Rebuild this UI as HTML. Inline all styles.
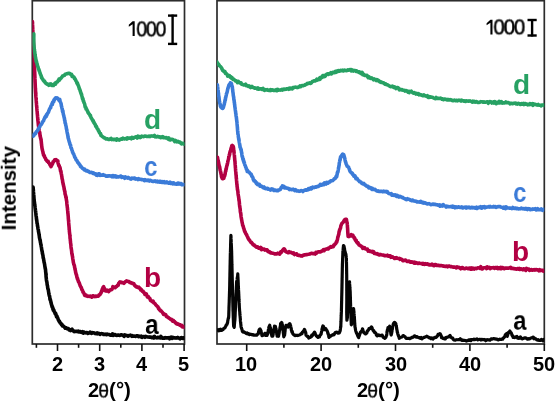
<!DOCTYPE html>
<html><head><meta charset="utf-8"><style>
html,body{margin:0;padding:0;background:#fff;}
body{width:555px;height:401px;position:relative;overflow:hidden;font-family:"Liberation Sans", sans-serif;}
.t{position:absolute;white-space:nowrap;line-height:1;-webkit-font-smoothing:antialiased;will-change:transform;}
.tick{font-weight:bold;font-size:18px;color:#000;}
.lab{font-weight:bold;font-size:28px;}
.k{font-size:20px;letter-spacing:-1px;color:#000;}
</style></head><body>
<svg width="555" height="401" viewBox="0 0 555 401" style="position:absolute;left:0;top:0">
<rect x="32.3" y="0.7" width="152.2" height="343.3" fill="none" stroke="#2c2c2c" stroke-width="1.7"/>
<rect x="217" y="0.7" width="327.3" height="343.3" fill="none" stroke="#2c2c2c" stroke-width="1.7"/>
<line x1="36.40" y1="344" x2="36.40" y2="347.8" stroke="#111" stroke-width="1.6"/>
<line x1="57.50" y1="344" x2="57.50" y2="351.0" stroke="#111" stroke-width="1.6"/>
<line x1="78.60" y1="344" x2="78.60" y2="347.8" stroke="#111" stroke-width="1.6"/>
<line x1="99.70" y1="344" x2="99.70" y2="351.0" stroke="#111" stroke-width="1.6"/>
<line x1="120.80" y1="344" x2="120.80" y2="347.8" stroke="#111" stroke-width="1.6"/>
<line x1="141.90" y1="344" x2="141.90" y2="351.0" stroke="#111" stroke-width="1.6"/>
<line x1="163.00" y1="344" x2="163.00" y2="347.8" stroke="#111" stroke-width="1.6"/>
<line x1="184.10" y1="344" x2="184.10" y2="351.0" stroke="#111" stroke-width="1.6"/>
<line x1="246.70" y1="344" x2="246.70" y2="351.0" stroke="#111" stroke-width="1.6"/>
<line x1="283.90" y1="344" x2="283.90" y2="347.8" stroke="#111" stroke-width="1.6"/>
<line x1="321.10" y1="344" x2="321.10" y2="351.0" stroke="#111" stroke-width="1.6"/>
<line x1="358.30" y1="344" x2="358.30" y2="347.8" stroke="#111" stroke-width="1.6"/>
<line x1="395.50" y1="344" x2="395.50" y2="351.0" stroke="#111" stroke-width="1.6"/>
<line x1="432.70" y1="344" x2="432.70" y2="347.8" stroke="#111" stroke-width="1.6"/>
<line x1="469.90" y1="344" x2="469.90" y2="351.0" stroke="#111" stroke-width="1.6"/>
<line x1="507.10" y1="344" x2="507.10" y2="347.8" stroke="#111" stroke-width="1.6"/>
<line x1="544.30" y1="344" x2="544.30" y2="351.0" stroke="#111" stroke-width="1.6"/>
<defs><clipPath id="cl"><rect x="32.3" y="0" width="152.2" height="344"/></clipPath><clipPath id="cr"><rect x="217" y="0" width="327.3" height="344"/></clipPath></defs>
<g clip-path="url(#cl)" style="display:inline">
<path d="M33.00 186.94 L33.03 187.41 L33.08 187.30 L33.12 187.50 L33.17 187.97 L33.23 189.10 L33.29 189.37 L33.35 189.94 L33.42 191.41 L33.48 192.19 L33.55 193.19 L33.63 193.41 L33.70 194.64 L33.77 195.44 L33.85 195.66 L33.92 197.33 L33.99 198.02 L34.06 199.64 L34.13 199.42 L34.20 199.94 L34.28 201.30 L34.37 201.63 L34.45 202.66 L34.53 202.83 L34.62 203.77 L34.70 204.79 L34.79 205.32 L34.87 205.74 L34.96 205.89 L35.05 207.20 L35.14 207.71 L35.23 208.66 L35.32 209.14 L35.41 210.22 L35.50 210.48 L35.58 211.24 L35.66 212.08 L35.73 211.99 L35.81 212.91 L35.88 213.51 L35.95 215.20 L36.03 214.98 L36.10 215.95 L36.18 216.60 L36.27 216.91 L36.35 217.07 L36.44 218.84 L36.54 219.01 L36.64 220.24 L36.75 220.18 L36.87 221.37 L37.00 222.93 L37.09 223.60 L37.19 223.06 L37.29 223.67 L37.39 224.85 L37.49 225.82 L37.60 226.24 L37.71 226.97 L37.82 227.11 L37.94 228.46 L38.06 229.38 L38.18 229.44 L38.30 229.73 L38.42 230.74 L38.55 232.10 L38.68 231.79 L38.81 233.21 L38.94 233.58 L39.07 234.68 L39.20 235.38 L39.33 236.24 L39.46 237.62 L39.60 237.92 L39.73 239.05 L39.87 239.19 L40.00 239.80 L40.12 240.82 L40.24 240.14 L40.36 242.00 L40.49 242.78 L40.62 242.91 L40.75 244.35 L40.89 244.65 L41.02 244.59 L41.16 246.27 L41.30 246.70 L41.44 247.64 L41.58 248.54 L41.72 249.88 L41.86 250.15 L41.99 250.83 L42.13 251.75 L42.27 251.55 L42.40 253.56 L42.54 253.30 L42.67 254.64 L42.80 254.67 L42.92 255.40 L43.05 256.31 L43.17 257.91 L43.28 258.03 L43.39 258.08 L43.50 258.79 L43.60 258.99 L43.70 259.99 L43.89 260.78 L44.06 262.26 L44.23 262.23 L44.38 263.45 L44.52 263.96 L44.65 264.68 L44.77 265.92 L44.88 266.29 L44.99 267.08 L45.10 267.93 L45.20 268.52 L45.30 268.08 L45.40 269.53 L45.50 269.26 L45.59 270.68 L45.67 272.20 L45.74 271.99 L45.80 272.59 L45.85 273.48 L45.91 274.09 L45.96 274.77 L46.01 275.12 L46.06 276.60 L46.13 277.23 L46.20 277.51 L46.29 278.50 L46.38 279.44 L46.50 280.43 L46.59 280.77 L46.69 281.53 L46.79 281.78 L46.90 282.11 L47.01 283.04 L47.12 284.37 L47.24 285.07 L47.37 285.44 L47.50 285.86 L47.62 286.96 L47.76 288.26 L47.89 288.87 L48.03 288.74 L48.17 289.74 L48.30 289.86 L48.44 290.71 L48.58 291.97 L48.72 292.58 L48.86 293.65 L49.00 294.43 L49.16 295.01 L49.32 295.96 L49.49 295.93 L49.65 296.42 L49.82 297.85 L49.99 299.49 L50.15 299.24 L50.33 299.32 L50.50 300.61 L50.68 301.81 L50.85 301.46 L51.04 302.91 L51.22 302.99 L51.41 304.43 L51.60 304.87 L51.80 305.31 L52.00 306.64 L52.25 306.36 L52.50 306.95 L52.76 308.70 L53.02 308.22 L53.28 310.16 L53.55 309.86 L53.82 310.06 L54.10 311.12 L54.39 311.78 L54.68 312.42 L54.98 312.86 L55.28 314.01 L55.59 313.20 L55.90 314.57 L56.22 315.33 L56.55 316.86 L56.88 315.91 L57.22 317.27 L57.56 317.60 L57.91 318.46 L58.27 319.67 L58.63 320.22 L59.00 321.28 L59.37 321.04 L59.74 322.00 L60.12 322.95 L60.51 323.37 L60.90 323.36 L61.41 324.58 L61.93 324.29 L62.47 325.97 L63.01 325.78 L63.57 326.14 L64.12 326.75 L64.68 327.41 L65.24 328.18 L65.80 327.76 L66.35 328.01 L66.90 328.75 L67.63 328.54 L68.35 328.54 L69.06 329.89 L69.78 329.62 L70.50 330.47 L71.24 329.77 L72.00 329.18 L72.80 330.72 L73.45 330.83 L74.11 331.59 L74.78 331.28 L75.45 331.33 L76.14 331.57 L76.86 331.29 L77.59 331.60 L78.36 331.11 L79.16 332.01 L80.00 331.56 L80.63 331.79 L81.28 332.34 L81.96 332.51 L82.65 331.77 L83.36 333.10 L84.09 332.07 L84.83 332.73 L85.57 332.84 L86.31 332.60 L87.06 332.63 L87.81 333.38 L88.55 333.05 L89.28 332.93 L90.00 332.03 L90.71 332.55 L91.42 333.41 L92.12 333.06 L92.83 332.63 L93.53 332.82 L94.23 333.02 L94.94 333.49 L95.64 333.42 L96.35 333.73 L97.07 333.02 L97.79 333.84 L98.52 333.27 L99.25 333.41 L100.00 334.33 L100.70 333.69 L101.42 333.66 L102.14 333.69 L102.86 333.68 L103.59 334.55 L104.33 334.54 L105.07 334.33 L105.81 334.16 L106.55 334.59 L107.30 334.18 L108.04 334.46 L108.78 334.50 L109.53 334.43 L110.26 335.14 L111.00 335.24 L111.73 335.11 L112.46 333.80 L113.18 335.42 L113.91 335.00 L114.63 334.56 L115.35 334.78 L116.08 335.32 L116.80 335.38 L117.53 335.29 L118.26 335.03 L118.99 335.03 L119.74 335.41 L120.48 335.07 L121.24 334.78 L122.00 334.94 L122.68 335.18 L123.37 335.42 L124.07 336.27 L124.78 334.79 L125.49 335.60 L126.20 335.40 L126.92 335.60 L127.64 336.09 L128.36 336.08 L129.08 335.53 L129.80 335.40 L130.51 335.11 L131.22 335.69 L131.93 336.29 L132.63 335.70 L133.32 336.15 L134.00 336.20 L134.76 336.12 L135.52 336.47 L136.26 336.02 L137.01 335.79 L137.74 335.70 L138.47 336.65 L139.20 336.17 L139.92 336.26 L140.65 336.80 L141.37 336.18 L142.09 337.32 L142.82 336.92 L143.54 336.47 L144.27 336.48 L145.00 337.25 L145.73 336.35 L146.47 336.63 L147.20 336.94 L147.93 337.07 L148.67 337.03 L149.40 337.23 L150.13 336.95 L150.87 337.09 L151.60 337.71 L152.33 337.49 L153.07 337.07 L153.80 338.01 L154.53 336.49 L155.27 337.40 L156.00 337.68 L156.72 337.85 L157.42 337.52 L158.10 337.35 L158.78 337.79 L159.44 337.50 L160.11 337.82 L160.78 336.46 L161.47 337.85 L162.17 337.39 L162.89 338.15 L163.64 338.10 L164.42 338.13 L165.23 337.68 L166.09 338.06 L167.00 337.76 L167.61 338.00 L168.25 337.87 L168.94 337.57 L169.66 338.78 L170.41 338.27 L171.18 337.11 L171.97 338.36 L172.78 337.41 L173.59 337.90 L174.42 337.77 L175.24 337.79 L176.06 338.13 L176.88 337.90 L177.68 337.43 L178.46 338.04 L179.22 338.21 L179.96 338.80 L180.66 337.89 L181.33 337.57 L181.97 337.92 L182.55 338.36 L183.09 337.72 L183.57 337.79 L184.00 338.33 L186.06 338.16 L186.00 338.29" fill="none" stroke="#050505" stroke-width="3.60" stroke-linejoin="round" stroke-linecap="round"/>
<path d="M32.40 22.48 L32.42 21.60 L32.44 22.46 L32.46 22.81 L32.48 23.59 L32.51 23.18 L32.53 24.15 L32.56 24.60 L32.59 25.08 L32.62 25.82 L32.65 26.63 L32.69 27.42 L32.72 27.87 L32.75 29.16 L32.79 29.51 L32.83 29.17 L32.86 31.79 L32.90 31.92 L32.94 32.58 L32.98 33.82 L33.01 34.63 L33.05 35.38 L33.09 35.83 L33.13 37.10 L33.17 37.20 L33.21 39.28 L33.25 38.97 L33.29 40.23 L33.32 41.14 L33.36 42.02 L33.40 42.62 L33.43 43.70 L33.47 42.73 L33.50 44.90 L33.53 45.57 L33.56 46.16 L33.59 47.69 L33.63 47.35 L33.66 48.45 L33.69 48.35 L33.72 50.04 L33.76 49.97 L33.79 50.73 L33.82 53.12 L33.85 53.16 L33.88 53.59 L33.92 54.41 L33.95 54.47 L33.98 55.37 L34.01 56.74 L34.05 56.40 L34.08 58.15 L34.11 58.03 L34.14 59.55 L34.17 59.76 L34.21 61.71 L34.24 62.12 L34.27 62.19 L34.30 62.32 L34.33 63.50 L34.36 64.52 L34.39 64.82 L34.42 66.06 L34.45 67.04 L34.48 67.28 L34.51 67.79 L34.54 68.97 L34.57 69.17 L34.60 70.31 L34.64 70.61 L34.67 72.22 L34.70 72.18 L34.73 72.61 L34.76 73.86 L34.80 74.29 L34.83 74.90 L34.85 75.97 L34.88 77.06 L34.91 76.53 L34.94 78.15 L34.97 78.80 L35.00 79.50 L35.03 80.60 L35.05 80.39 L35.08 81.92 L35.11 82.23 L35.14 83.06 L35.17 83.60 L35.20 84.24 L35.24 84.84 L35.27 85.93 L35.31 87.34 L35.34 87.59 L35.38 88.20 L35.42 88.77 L35.46 89.04 L35.50 90.21 L35.54 91.56 L35.59 90.84 L35.63 92.47 L35.68 93.27 L35.73 93.68 L35.78 94.63 L35.83 95.61 L35.88 96.70 L35.93 97.04 L35.98 97.92 L36.04 98.09 L36.09 99.03 L36.14 99.48 L36.20 100.26 L36.26 100.66 L36.31 101.87 L36.37 102.92 L36.42 102.96 L36.48 103.85 L36.54 104.72 L36.60 105.17 L36.65 106.26 L36.71 106.67 L36.77 106.76 L36.83 107.51 L36.89 108.94 L36.94 109.58 L37.00 110.45 L37.07 110.87 L37.13 111.63 L37.20 111.65 L37.26 113.68 L37.33 113.47 L37.40 115.07 L37.46 114.91 L37.53 115.87 L37.60 116.98 L37.66 117.48 L37.73 118.11 L37.80 119.53 L37.87 120.17 L37.94 120.78 L38.01 121.19 L38.08 121.69 L38.15 122.54 L38.23 123.22 L38.30 124.11 L38.38 125.12 L38.46 125.39 L38.54 125.78 L38.62 126.50 L38.70 127.93 L38.81 128.29 L38.94 129.13 L39.06 129.94 L39.20 130.85 L39.33 131.43 L39.47 132.62 L39.61 133.20 L39.75 132.38 L39.89 134.23 L40.03 136.22 L40.17 135.11 L40.31 136.37 L40.44 137.42 L40.56 137.60 L40.68 138.78 L40.80 138.29 L40.90 138.89 L41.00 139.92 L41.14 140.59 L41.25 141.31 L41.35 142.81 L41.44 143.44 L41.51 144.06 L41.58 144.59 L41.65 145.54 L41.73 146.04 L41.81 146.42 L41.90 147.58 L42.00 148.16 L42.16 148.89 L42.33 149.96 L42.50 149.99 L42.69 151.15 L42.88 151.71 L43.08 153.20 L43.29 153.54 L43.50 154.89 L43.76 155.42 L44.03 155.33 L44.31 155.73 L44.60 157.08 L44.90 157.40 L45.20 158.06 L45.50 158.25 L45.93 159.66 L46.36 160.11 L46.80 160.77 L47.25 161.27 L47.70 161.32 L48.17 161.35 L48.68 162.78 L49.17 163.22 L49.62 163.80 L50.00 164.90 L50.57 165.51 L51.00 166.63 L51.36 165.71 L51.75 165.16 L52.20 164.21 L52.60 163.63 L53.05 161.95 L53.52 162.13 L54.00 161.05 L54.67 159.83 L55.36 159.90 L56.00 159.55 L56.59 160.17 L57.13 160.51 L57.60 161.15 L57.83 160.89 L58.02 162.97 L58.20 163.63 L58.38 164.10 L58.60 164.69 L58.86 165.67 L59.14 165.42 L59.43 166.71 L59.72 167.15 L60.00 167.58 L60.17 168.79 L60.34 169.50 L60.51 170.83 L60.68 171.30 L60.85 171.04 L61.01 171.69 L61.16 173.25 L61.30 173.91 L61.45 174.36 L61.58 174.86 L61.70 176.08 L61.81 176.35 L61.93 177.24 L62.06 178.60 L62.20 179.10 L62.33 179.38 L62.47 179.93 L62.61 181.04 L62.76 182.58 L62.91 182.40 L63.07 184.11 L63.23 183.85 L63.40 184.91 L63.54 185.97 L63.68 186.05 L63.83 187.11 L63.98 187.25 L64.13 188.83 L64.29 189.79 L64.44 189.78 L64.60 190.88 L64.75 191.38 L64.90 191.39 L65.05 194.17 L65.20 193.98 L65.35 194.73 L65.50 195.22 L65.66 195.82 L65.81 197.45 L65.96 196.43 L66.11 197.86 L66.25 198.68 L66.40 199.71 L66.48 200.68 L66.57 200.68 L66.65 201.04 L66.73 201.75 L66.82 203.06 L66.90 203.92 L66.98 204.54 L67.06 205.56 L67.14 205.38 L67.22 206.75 L67.30 207.36 L67.38 207.77 L67.47 208.31 L67.55 209.81 L67.63 209.98 L67.72 211.00 L67.80 211.59 L67.86 213.35 L67.92 213.22 L67.97 213.68 L68.03 214.45 L68.09 215.13 L68.14 215.96 L68.20 215.90 L68.26 216.84 L68.32 218.26 L68.37 219.24 L68.43 219.09 L68.49 220.31 L68.55 220.77 L68.61 220.81 L68.67 222.39 L68.73 222.82 L68.79 224.40 L68.85 224.71 L68.91 225.54 L68.97 225.69 L69.04 227.12 L69.10 226.98 L69.17 228.63 L69.23 229.85 L69.30 229.49 L69.37 231.08 L69.44 232.05 L69.51 232.11 L69.58 233.41 L69.66 233.73 L69.73 234.24 L69.81 234.36 L69.88 235.51 L69.96 236.10 L70.04 238.49 L70.11 238.35 L70.19 238.93 L70.27 239.18 L70.35 241.22 L70.43 240.74 L70.51 242.59 L70.59 243.14 L70.66 243.43 L70.74 243.82 L70.82 244.76 L70.90 244.90 L70.97 246.39 L71.05 247.47 L71.13 247.77 L71.20 248.44 L71.31 248.57 L71.42 249.84 L71.52 250.10 L71.63 251.13 L71.74 252.40 L71.84 253.89 L71.95 253.60 L72.05 254.29 L72.16 254.17 L72.26 255.72 L72.37 255.92 L72.47 256.36 L72.58 256.95 L72.68 258.26 L72.79 258.64 L72.89 259.69 L73.00 259.90 L73.16 260.88 L73.33 262.31 L73.49 262.81 L73.65 263.53 L73.82 264.53 L73.98 264.68 L74.15 264.84 L74.31 265.59 L74.47 265.94 L74.64 267.44 L74.80 267.83 L74.96 268.95 L75.13 269.84 L75.29 269.91 L75.45 271.09 L75.61 272.31 L75.78 272.57 L75.94 273.67 L76.10 273.92 L76.27 274.30 L76.43 275.27 L76.60 275.21 L76.83 277.11 L77.07 277.34 L77.30 278.83 L77.54 278.42 L77.78 279.64 L78.02 280.36 L78.26 280.77 L78.50 281.66 L78.77 281.91 L79.03 282.47 L79.29 283.01 L79.56 284.05 L79.85 284.64 L80.16 285.82 L80.50 286.34 L80.77 286.82 L81.06 287.44 L81.36 287.63 L81.68 288.99 L82.01 290.03 L82.34 289.98 L82.67 291.11 L82.99 292.13 L83.31 292.11 L83.60 292.98 L84.14 293.51 L84.63 295.34 L85.12 295.36 L85.63 295.65 L86.20 295.21 L86.81 296.08 L87.45 295.96 L88.13 296.35 L88.87 296.07 L89.70 296.47 L90.38 296.12 L91.14 296.59 L91.94 297.21 L92.76 295.86 L93.56 295.85 L94.32 296.57 L95.00 296.64 L95.83 296.05 L96.58 296.36 L97.26 296.16 L97.89 296.01 L98.50 296.09 L99.07 294.88 L99.59 295.05 L100.07 294.38 L100.54 293.43 L101.00 293.21 L101.29 291.84 L101.57 291.00 L101.85 291.24 L102.12 289.43 L102.39 289.79 L102.66 288.79 L102.93 287.58 L103.20 287.12 L103.63 286.64 L104.06 288.17 L104.48 288.36 L104.93 290.58 L105.40 289.78 L106.24 291.02 L107.14 290.06 L108.10 291.05 L108.74 291.59 L109.43 290.54 L110.14 290.00 L110.81 289.72 L111.40 289.66 L111.98 289.27 L112.45 288.08 L112.92 286.64 L113.50 287.13 L114.24 287.19 L115.08 287.73 L115.95 286.74 L116.80 286.37 L117.26 285.62 L117.72 285.55 L118.18 285.28 L118.63 283.36 L119.09 283.15 L119.54 282.11 L120.00 281.90 L120.80 282.04 L121.59 282.68 L122.39 282.53 L123.20 282.87 L123.86 283.30 L124.52 282.43 L125.18 281.95 L125.84 281.33 L126.50 280.82 L127.30 281.12 L128.10 281.45 L128.90 281.62 L129.70 282.44 L130.36 282.25 L131.02 282.88 L131.68 282.77 L132.34 283.40 L133.00 283.21 L133.53 283.69 L134.04 283.95 L134.56 285.52 L135.08 285.79 L135.62 286.21 L136.20 286.86 L136.81 286.63 L137.45 287.34 L138.11 287.37 L138.79 287.10 L139.48 288.17 L140.20 288.42 L140.69 289.83 L141.18 289.37 L141.68 289.94 L142.19 291.17 L142.71 291.32 L143.24 291.34 L143.78 292.61 L144.33 292.78 L144.90 294.43 L145.38 293.73 L145.86 294.35 L146.36 294.00 L146.87 295.39 L147.38 297.00 L147.90 296.66 L148.43 296.82 L148.95 297.88 L149.47 298.14 L149.99 298.77 L150.50 300.37 L151.01 300.67 L151.53 301.00 L152.06 301.54 L152.58 300.94 L153.11 301.00 L153.63 302.67 L154.14 303.03 L154.65 303.39 L155.15 303.83 L155.63 304.70 L156.10 305.14 L156.59 305.57 L157.07 306.25 L157.53 306.53 L157.98 307.03 L158.42 308.37 L158.85 308.23 L159.28 309.76 L159.72 309.73 L160.15 310.01 L160.60 310.98 L161.10 310.84 L161.60 311.51 L162.10 311.98 L162.60 312.64 L163.10 313.44 L163.60 314.52 L164.10 314.33 L164.60 314.10 L165.10 314.64 L165.73 314.75 L166.35 316.32 L166.97 316.83 L167.59 317.03 L168.23 317.49 L168.90 318.02 L169.60 318.48 L170.18 319.00 L170.79 319.28 L171.43 319.24 L172.07 320.55 L172.73 321.21 L173.37 320.41 L174.01 321.47 L174.62 321.52 L175.20 322.62 L175.90 322.73 L176.57 323.87 L177.21 324.11 L177.83 323.78 L178.45 324.12 L179.07 324.40 L179.70 325.25 L180.37 324.96 L181.06 325.91 L181.77 325.49 L182.46 326.89 L183.11 326.97 L183.70 326.56 L184.20 326.96 L185.38 327.85 L186.00 328.12" fill="none" stroke="#b20043" stroke-width="3.60" stroke-linejoin="round" stroke-linecap="round"/>
<path d="M33.00 136.04 L33.27 136.19 L33.63 134.84 L34.06 135.13 L34.53 134.02 L35.04 133.40 L35.56 133.66 L36.07 132.29 L36.56 131.57 L37.00 131.31 L37.46 130.84 L37.91 129.72 L38.35 129.35 L38.78 128.06 L39.21 127.67 L39.64 126.98 L40.07 125.93 L40.50 125.17 L40.85 124.54 L41.20 124.54 L41.55 123.96 L41.90 123.29 L42.25 122.84 L42.60 121.62 L42.95 121.52 L43.30 121.03 L43.65 120.63 L44.00 119.34 L44.35 118.93 L44.70 117.65 L45.05 117.69 L45.40 116.38 L45.75 116.11 L46.10 116.57 L46.45 114.57 L46.80 115.21 L47.15 114.38 L47.50 113.47 L47.82 113.19 L48.14 112.60 L48.45 112.19 L48.77 111.02 L49.09 110.23 L49.41 109.58 L49.73 108.77 L50.05 108.51 L50.36 107.55 L50.68 107.69 L51.00 105.81 L51.32 105.48 L51.66 104.85 L52.00 103.67 L52.35 104.63 L52.69 102.10 L53.03 102.30 L53.36 101.53 L53.68 101.82 L53.97 99.71 L54.25 100.48 L54.50 99.29 L55.17 98.49 L55.65 97.83 L56.20 98.27 L56.98 97.75 L57.83 98.76 L58.60 99.55 L59.21 100.69 L59.74 99.46 L60.20 101.84 L60.50 102.30 L60.75 102.51 L60.98 103.72 L61.20 104.30 L61.37 105.94 L61.52 106.10 L61.67 106.73 L61.82 107.55 L62.00 108.42 L62.17 109.17 L62.34 109.66 L62.53 111.70 L62.72 110.83 L62.91 110.92 L63.10 113.15 L63.28 113.84 L63.45 114.70 L63.62 115.09 L63.80 115.78 L63.99 116.74 L64.20 117.91 L64.33 117.93 L64.47 118.64 L64.62 120.33 L64.77 120.50 L64.93 120.64 L65.08 122.83 L65.24 122.98 L65.39 123.21 L65.55 123.75 L65.70 125.13 L65.85 125.39 L66.00 126.04 L66.15 126.68 L66.30 127.75 L66.45 129.16 L66.60 129.25 L66.75 129.56 L66.90 131.19 L67.05 131.68 L67.20 132.75 L67.33 133.59 L67.46 133.70 L67.59 134.40 L67.71 135.14 L67.84 135.38 L67.96 136.83 L68.10 137.82 L68.23 138.01 L68.38 138.53 L68.53 139.21 L68.70 139.67 L68.88 140.35 L69.07 141.21 L69.27 141.72 L69.48 142.58 L69.70 142.79 L69.92 144.29 L70.14 144.84 L70.36 145.00 L70.58 145.18 L70.79 146.78 L71.00 147.86 L71.25 147.83 L71.49 148.65 L71.74 149.31 L71.98 150.50 L72.22 150.50 L72.46 151.95 L72.71 152.04 L72.95 153.18 L73.20 153.41 L73.52 154.06 L73.83 154.25 L74.14 155.28 L74.45 156.13 L74.78 157.19 L75.13 157.70 L75.50 158.01 L75.84 159.10 L76.19 159.97 L76.55 160.13 L76.92 160.64 L77.31 161.30 L77.71 162.45 L78.14 162.98 L78.60 163.01 L79.03 164.15 L79.49 164.42 L79.97 164.94 L80.47 166.42 L80.98 166.88 L81.49 166.84 L82.00 167.75 L82.51 168.45 L83.00 168.43 L83.62 169.15 L84.24 169.90 L84.85 169.22 L85.46 170.42 L86.07 170.87 L86.69 171.04 L87.30 170.54 L88.00 171.55 L88.69 171.33 L89.38 172.19 L90.09 172.45 L90.82 172.53 L91.60 172.38 L92.22 172.66 L92.87 173.47 L93.54 172.95 L94.23 173.75 L94.93 173.96 L95.62 173.83 L96.32 175.13 L97.00 174.33 L97.77 175.38 L98.54 173.79 L99.31 173.84 L100.09 175.34 L100.86 175.32 L101.63 175.05 L102.40 175.28 L103.17 174.62 L103.94 175.28 L104.71 175.22 L105.49 175.67 L106.26 176.23 L107.03 175.96 L107.80 176.16 L108.57 175.74 L109.34 175.85 L110.11 176.06 L110.89 175.88 L111.66 176.51 L112.43 175.61 L113.20 176.79 L113.97 175.64 L114.74 176.57 L115.51 175.89 L116.29 177.00 L117.06 176.46 L117.83 176.67 L118.60 176.91 L119.37 176.43 L120.13 176.35 L120.88 176.03 L121.64 177.49 L122.41 176.78 L123.20 176.93 L124.00 177.29 L124.69 178.25 L125.36 176.81 L126.03 177.76 L126.71 177.62 L127.43 178.14 L128.20 177.29 L129.05 178.01 L130.00 178.65 L130.59 179.02 L131.22 179.10 L131.88 178.13 L132.57 178.57 L133.28 178.56 L134.01 178.09 L134.75 178.12 L135.50 179.10 L136.26 178.95 L137.03 178.85 L137.78 179.49 L138.54 178.63 L139.28 179.34 L140.00 179.20 L140.71 179.26 L141.43 179.58 L142.14 179.54 L142.86 179.68 L143.57 179.78 L144.29 180.58 L145.00 179.74 L145.71 180.41 L146.43 180.34 L147.14 180.05 L147.86 180.63 L148.57 180.04 L149.29 180.99 L150.00 180.26 L150.71 180.49 L151.43 180.93 L152.14 181.24 L152.86 181.37 L153.57 181.46 L154.29 181.09 L155.00 180.87 L155.71 181.60 L156.43 181.59 L157.14 181.15 L157.86 182.05 L158.57 181.81 L159.29 181.41 L160.00 182.09 L160.70 181.42 L161.39 181.68 L162.07 182.29 L162.74 181.54 L163.41 182.27 L164.08 181.75 L164.75 182.69 L165.43 182.14 L166.13 182.59 L166.85 181.95 L167.59 182.51 L168.36 183.13 L169.16 183.00 L170.00 182.13 L170.62 183.36 L171.29 183.42 L172.00 182.96 L172.74 183.80 L173.50 182.84 L174.28 183.34 L175.08 183.94 L175.89 184.11 L176.70 184.19 L177.50 183.28 L178.29 183.09 L179.07 184.09 L179.83 183.41 L180.56 184.04 L181.25 183.64 L181.90 184.70 L182.51 184.66 L183.07 184.62 L183.57 184.46 L184.00 184.52 L185.88 184.63 L186.00 184.96" fill="none" stroke="#3b7bd8" stroke-width="3.60" stroke-linejoin="round" stroke-linecap="round"/>
<path d="M33.80 33.82 L33.80 34.39 L33.80 34.47 L33.80 35.35 L33.80 36.18 L33.79 36.61 L33.78 37.79 L33.78 37.49 L33.78 38.66 L33.78 39.13 L33.78 39.91 L33.79 40.99 L33.80 42.00 L33.82 42.92 L33.85 43.80 L33.89 45.35 L33.94 45.58 L34.00 45.33 L34.06 46.75 L34.12 47.08 L34.19 47.82 L34.27 49.30 L34.35 49.37 L34.44 49.37 L34.53 51.06 L34.62 51.54 L34.72 51.91 L34.83 52.75 L34.93 53.61 L35.04 54.59 L35.15 55.14 L35.27 56.07 L35.39 57.51 L35.51 57.09 L35.63 57.76 L35.75 58.65 L35.88 59.85 L36.00 59.70 L36.18 61.44 L36.38 61.11 L36.58 62.01 L36.78 63.18 L37.00 63.59 L37.22 64.41 L37.44 65.56 L37.66 66.37 L37.89 66.79 L38.11 67.29 L38.34 68.63 L38.56 68.88 L38.78 69.26 L39.00 70.51 L39.25 70.37 L39.49 71.55 L39.73 72.49 L39.96 72.92 L40.20 73.39 L40.44 74.46 L40.68 74.75 L40.93 75.38 L41.18 75.83 L41.44 77.41 L41.71 77.21 L42.00 78.49 L42.40 78.86 L42.80 79.26 L43.22 80.28 L43.65 80.71 L44.10 81.20 L44.56 81.09 L45.02 82.18 L45.51 82.97 L46.00 83.20 L46.67 83.89 L47.38 84.50 L48.13 84.40 L48.87 85.34 L49.62 84.10 L50.33 84.80 L51.00 83.94 L51.86 85.38 L52.67 85.00 L53.45 85.47 L54.22 84.29 L55.00 83.15 L55.50 84.18 L56.00 82.65 L56.50 82.19 L57.00 82.11 L57.50 81.90 L58.00 80.86 L58.50 80.60 L59.00 79.21 L59.50 80.22 L60.00 78.94 L60.50 78.48 L61.00 78.15 L61.50 77.46 L62.00 76.98 L62.50 76.04 L63.00 75.95 L63.67 75.65 L64.33 75.38 L65.00 74.42 L65.67 74.09 L66.33 73.87 L67.00 73.74 L67.82 73.45 L68.65 73.23 L69.47 73.23 L70.26 74.13 L71.00 74.12 L71.57 74.43 L72.11 76.43 L72.63 75.98 L73.12 76.63 L73.58 76.99 L74.00 77.07 L74.52 78.62 L74.94 78.63 L75.36 79.33 L75.90 80.73 L76.14 81.21 L76.40 81.41 L76.68 81.89 L76.97 83.38 L77.27 83.39 L77.58 83.39 L77.89 84.84 L78.20 85.32 L78.51 86.01 L78.81 87.03 L79.10 87.60 L79.32 88.95 L79.55 88.82 L79.77 89.49 L79.99 90.53 L80.21 90.48 L80.43 91.83 L80.65 92.07 L80.87 93.30 L81.09 93.15 L81.31 94.39 L81.53 94.24 L81.75 95.43 L81.98 96.32 L82.20 97.21 L82.42 98.51 L82.64 99.15 L82.86 98.51 L83.07 99.45 L83.29 100.99 L83.51 101.35 L83.72 101.29 L83.95 102.76 L84.17 102.78 L84.40 103.57 L84.64 104.09 L84.88 105.18 L85.14 106.89 L85.40 106.76 L85.69 107.25 L86.00 109.03 L86.32 108.47 L86.65 109.27 L86.98 109.89 L87.32 110.84 L87.66 111.18 L88.00 112.57 L88.35 112.48 L88.69 113.47 L89.03 113.96 L89.37 114.13 L89.70 114.69 L90.05 115.73 L90.41 115.43 L90.76 117.03 L91.11 117.68 L91.46 118.32 L91.81 118.83 L92.16 119.61 L92.50 119.92 L92.85 120.94 L93.20 120.59 L93.55 122.27 L93.90 122.13 L94.26 123.34 L94.62 123.59 L94.99 124.27 L95.37 124.79 L95.74 126.36 L96.11 126.01 L96.48 126.61 L96.83 127.85 L97.18 128.48 L97.50 128.97 L97.81 129.09 L98.10 129.73 L98.60 131.26 L99.03 131.19 L99.41 132.53 L99.76 133.16 L100.12 133.48 L100.50 133.49 L100.97 135.52 L101.42 135.47 L101.89 136.16 L102.40 136.53 L103.00 136.80 L103.55 137.45 L104.11 137.94 L104.72 137.75 L105.39 138.37 L106.14 139.00 L107.00 138.88 L107.58 138.77 L108.22 139.34 L108.91 139.38 L109.63 139.45 L110.38 138.82 L111.13 138.46 L111.88 139.61 L112.62 139.35 L113.33 139.21 L114.00 139.60 L114.80 139.24 L115.57 139.19 L116.32 140.20 L117.06 138.77 L117.79 139.76 L118.52 139.80 L119.26 140.08 L120.00 139.41 L120.75 139.46 L121.50 138.81 L122.25 139.14 L123.00 138.17 L123.75 138.73 L124.50 138.87 L125.25 138.75 L126.00 138.50 L126.75 139.09 L127.50 137.83 L128.25 138.43 L129.00 138.09 L129.75 138.15 L130.50 138.04 L131.25 138.72 L132.00 137.35 L132.75 138.26 L133.50 138.20 L134.25 137.47 L135.00 137.18 L135.75 136.83 L136.50 136.90 L137.25 138.04 L138.00 136.20 L138.75 137.21 L139.50 136.64 L140.25 137.64 L141.00 136.90 L141.75 136.13 L142.50 136.40 L143.25 136.64 L144.00 136.55 L144.75 136.06 L145.50 136.30 L146.25 136.20 L147.00 136.57 L147.75 136.46 L148.50 136.42 L149.25 136.07 L150.00 136.63 L150.75 136.05 L151.50 135.92 L152.25 136.07 L153.00 136.10 L153.75 136.10 L154.50 135.43 L155.25 136.82 L156.00 136.56 L156.75 136.92 L157.50 136.28 L158.25 136.85 L159.00 136.73 L159.75 136.78 L160.50 137.65 L161.25 136.80 L162.00 137.44 L162.75 136.65 L163.50 137.81 L164.25 137.71 L165.00 137.58 L165.75 137.99 L166.50 137.58 L167.25 138.24 L168.00 138.97 L168.75 138.00 L169.50 139.76 L170.25 139.91 L171.00 139.38 L171.75 139.27 L172.50 139.50 L173.25 139.76 L174.00 140.19 L174.76 141.63 L175.54 140.47 L176.33 141.48 L177.11 141.92 L177.88 141.23 L178.63 141.74 L179.34 142.36 L180.00 142.03 L180.83 143.13 L181.62 143.82 L182.36 143.21 L183.04 143.18 L183.66 144.04 L184.20 144.14 L185.36 144.04 L186.00 144.44" fill="none" stroke="#27a163" stroke-width="3.60" stroke-linejoin="round" stroke-linecap="round"/>
</g>
<g clip-path="url(#cr)" style="display:inline">
<path d="M217.00 329.80 L217.75 329.87 L218.50 330.68 L219.25 329.49 L220.00 330.44 L220.83 329.25 L221.67 330.36 L222.50 329.69 L223.18 329.64 L223.85 328.34 L224.52 328.19 L225.20 327.38 L225.55 326.51 L225.90 326.19 L226.25 324.92 L226.60 324.62 L226.95 324.38 L227.30 323.42 L227.44 322.54 L227.58 322.94 L227.72 321.35 L227.86 320.39 L228.00 320.02 L228.14 319.04 L228.28 318.41 L228.42 317.73 L228.56 318.04 L228.70 316.51 L228.72 315.86 L228.75 315.35 L228.77 315.20 L228.80 313.54 L228.82 312.66 L228.85 313.24 L228.87 310.87 L228.89 310.62 L228.92 310.33 L228.94 310.30 L228.97 308.22 L228.99 306.89 L229.02 307.47 L229.04 306.25 L229.06 305.59 L229.09 305.23 L229.11 304.42 L229.14 303.73 L229.16 302.71 L229.19 302.72 L229.21 302.09 L229.24 300.76 L229.26 299.84 L229.28 299.62 L229.31 298.80 L229.33 297.44 L229.36 296.97 L229.38 296.89 L229.41 295.69 L229.43 294.88 L229.45 294.39 L229.48 293.57 L229.50 292.86 L229.53 291.34 L229.55 292.17 L229.58 290.80 L229.60 289.63 L229.61 289.70 L229.63 288.71 L229.64 287.88 L229.66 287.61 L229.67 287.41 L229.69 285.98 L229.70 285.71 L229.72 285.24 L229.73 283.20 L229.75 282.70 L229.76 282.53 L229.78 280.78 L229.79 280.68 L229.80 280.63 L229.82 279.81 L229.83 278.91 L229.85 277.16 L229.86 278.24 L229.88 276.77 L229.89 276.16 L229.91 275.33 L229.92 273.70 L229.94 273.11 L229.95 272.49 L229.96 273.10 L229.98 271.23 L229.99 270.77 L230.01 270.06 L230.02 269.70 L230.04 268.96 L230.05 268.15 L230.07 266.80 L230.08 265.31 L230.10 265.99 L230.11 265.32 L230.12 265.02 L230.14 263.75 L230.15 262.83 L230.17 262.55 L230.18 261.01 L230.20 260.52 L230.21 259.83 L230.23 259.66 L230.24 259.71 L230.26 258.45 L230.27 257.90 L230.29 256.81 L230.30 256.12 L230.32 255.09 L230.34 254.45 L230.36 252.83 L230.38 252.63 L230.40 251.87 L230.42 252.05 L230.44 251.26 L230.47 250.74 L230.49 250.20 L230.51 248.70 L230.53 248.55 L230.55 248.21 L230.57 246.67 L230.59 246.42 L230.61 245.17 L230.63 243.85 L230.65 243.86 L230.67 242.74 L230.69 242.42 L230.71 241.46 L230.73 241.07 L230.76 239.32 L230.78 240.38 L230.80 239.36 L230.82 237.92 L230.84 236.97 L230.86 236.64 L230.88 236.20 L230.90 235.38 L230.93 236.09 L230.96 235.81 L231.00 236.88 L231.03 238.64 L231.06 238.89 L231.09 238.87 L231.12 239.86 L231.15 240.34 L231.19 241.23 L231.22 242.88 L231.25 243.01 L231.28 244.29 L231.31 244.62 L231.35 244.62 L231.38 245.70 L231.41 247.67 L231.44 247.08 L231.47 247.68 L231.50 249.37 L231.54 249.60 L231.57 250.28 L231.60 251.63 L231.62 250.96 L231.63 252.60 L231.65 252.67 L231.67 253.23 L231.68 254.19 L231.70 255.74 L231.72 255.90 L231.73 255.88 L231.75 256.90 L231.77 258.74 L231.78 259.23 L231.80 259.03 L231.82 261.25 L231.83 260.76 L231.85 261.11 L231.87 262.27 L231.88 263.44 L231.90 264.44 L231.92 264.90 L231.93 264.98 L231.95 265.63 L231.97 265.96 L231.98 267.26 L232.00 267.74 L232.02 268.81 L232.03 268.87 L232.05 269.90 L232.07 270.45 L232.08 271.02 L232.10 271.74 L232.12 272.52 L232.13 273.16 L232.15 274.62 L232.17 275.13 L232.18 275.22 L232.20 276.72 L232.22 277.33 L232.23 278.54 L232.25 278.54 L232.27 279.24 L232.28 279.75 L232.30 280.80 L232.32 281.67 L232.33 282.24 L232.35 282.77 L232.37 283.83 L232.38 284.33 L232.40 285.11 L232.42 285.31 L232.43 286.52 L232.45 286.71 L232.47 287.49 L232.49 288.64 L232.50 290.19 L232.52 290.43 L232.54 290.72 L232.55 291.35 L232.57 292.57 L232.59 293.45 L232.61 294.10 L232.62 294.21 L232.64 295.08 L232.66 295.57 L232.67 296.31 L232.69 296.78 L232.71 297.75 L232.73 297.65 L232.74 298.77 L232.76 300.18 L232.78 300.32 L232.79 301.66 L232.81 301.59 L232.83 302.70 L232.85 303.74 L232.86 303.84 L232.88 304.69 L232.90 306.78 L232.91 306.14 L232.93 306.84 L232.95 307.61 L232.97 308.59 L232.98 309.27 L233.00 310.42 L233.03 311.07 L233.05 311.28 L233.08 312.03 L233.11 312.30 L233.14 312.99 L233.16 314.05 L233.19 315.40 L233.22 315.87 L233.25 316.89 L233.27 317.68 L233.30 317.93 L233.33 319.63 L233.35 319.23 L233.38 319.91 L233.41 320.72 L233.44 322.12 L233.46 322.30 L233.49 322.77 L233.52 324.00 L233.55 325.03 L233.57 325.22 L233.60 325.89 L234.20 327.47 L234.27 326.67 L234.33 325.91 L234.40 324.42 L234.47 324.12 L234.53 323.41 L234.60 321.73 L234.67 322.27 L234.73 321.04 L234.80 320.10 L234.87 320.47 L234.93 318.81 L235.00 317.69 L235.03 317.25 L235.06 316.80 L235.10 316.19 L235.13 315.10 L235.16 314.03 L235.19 313.38 L235.22 312.61 L235.26 311.79 L235.29 311.51 L235.32 310.59 L235.35 310.10 L235.38 309.01 L235.42 308.27 L235.45 307.84 L235.48 307.05 L235.51 306.97 L235.54 305.37 L235.58 305.13 L235.61 304.30 L235.64 303.04 L235.67 303.19 L235.70 302.23 L235.74 300.54 L235.77 300.98 L235.80 300.40 L235.83 298.94 L235.86 299.29 L235.90 297.91 L235.93 296.63 L235.96 296.64 L235.99 295.53 L236.02 294.39 L236.06 293.32 L236.09 293.63 L236.12 292.48 L236.15 292.36 L236.18 291.53 L236.22 290.42 L236.25 289.69 L236.28 289.96 L236.31 289.21 L236.34 288.08 L236.38 286.89 L236.41 285.90 L236.44 285.43 L236.47 285.59 L236.50 284.36 L236.54 283.32 L236.57 282.19 L236.60 282.07 L236.72 280.87 L236.84 280.51 L236.96 280.07 L237.08 279.46 L237.20 278.31 L237.32 277.35 L237.44 276.85 L237.56 276.77 L237.68 275.41 L237.80 273.90 L237.83 275.87 L237.87 276.02 L237.90 278.11 L237.94 277.13 L237.97 277.99 L238.01 278.61 L238.04 279.61 L238.08 279.91 L238.11 280.23 L238.14 280.75 L238.18 282.22 L238.21 282.76 L238.25 283.44 L238.28 285.30 L238.32 285.44 L238.35 286.28 L238.39 286.30 L238.42 287.35 L238.46 287.84 L238.49 288.55 L238.52 289.66 L238.56 290.31 L238.59 290.89 L238.63 291.53 L238.66 291.56 L238.70 292.56 L238.73 293.75 L238.77 294.14 L238.80 294.67 L238.83 295.87 L238.87 296.05 L238.90 296.88 L238.93 298.27 L238.97 298.46 L239.00 299.94 L239.03 300.28 L239.07 301.12 L239.10 301.98 L239.13 301.30 L239.17 302.91 L239.20 303.12 L239.23 304.19 L239.27 305.07 L239.30 306.36 L239.33 306.54 L239.37 307.98 L239.40 307.78 L239.46 308.69 L239.51 309.47 L239.57 310.55 L239.63 310.84 L239.69 311.31 L239.74 312.15 L239.80 312.40 L239.86 314.24 L239.92 314.72 L239.98 315.28 L240.04 315.92 L240.10 316.24 L240.16 317.03 L240.22 318.24 L240.28 318.26 L240.34 318.97 L240.40 320.67 L240.47 321.44 L240.55 321.67 L240.62 322.55 L240.70 323.18 L240.78 324.48 L240.85 324.46 L240.93 325.46 L241.00 326.41 L241.20 327.55 L241.40 327.58 L241.60 328.53 L241.80 328.96 L242.00 329.64 L242.20 330.38 L242.40 331.44 L243.08 332.10 L243.76 331.75 L244.44 332.11 L245.12 332.51 L245.80 333.15 L246.50 333.56 L247.20 333.00 L247.90 333.95 L248.60 333.64 L249.30 334.64 L250.00 334.19 L250.75 334.24 L251.50 334.50 L252.25 334.87 L253.00 334.58 L253.80 335.11 L254.60 335.11 L255.40 335.11 L256.20 335.21 L256.87 335.10 L257.53 334.06 L258.20 334.00 L258.40 333.19 L258.60 331.53 L258.80 331.76 L259.00 330.48 L259.20 329.70 L259.60 329.21 L260.00 328.84 L260.45 329.79 L260.90 330.70 L261.06 330.92 L261.21 332.22 L261.37 332.82 L261.53 333.19 L261.69 334.06 L261.84 335.12 L262.00 335.68 L262.75 335.54 L263.50 335.04 L263.97 334.88 L264.43 334.74 L264.90 333.39 L265.27 333.29 L265.63 335.46 L266.00 335.26 L267.00 335.42 L267.20 334.20 L267.40 334.58 L267.60 334.06 L267.80 333.22 L268.00 331.84 L268.13 331.89 L268.26 330.54 L268.39 329.61 L268.51 329.17 L268.64 328.52 L268.77 327.74 L268.90 327.17 L269.70 325.28 L270.10 327.76 L270.50 327.76 L270.60 329.02 L270.70 329.16 L270.80 330.32 L270.90 330.93 L271.00 331.09 L271.10 332.66 L271.20 333.52 L271.30 333.53 L271.50 333.95 L271.70 335.40 L271.90 336.15 L272.80 336.05 L272.93 335.24 L273.05 335.18 L273.18 334.02 L273.30 332.89 L273.43 332.32 L273.55 330.29 L273.68 330.37 L273.80 329.61 L273.94 329.25 L274.08 328.73 L274.22 327.99 L274.36 327.59 L274.50 326.21 L275.30 326.33 L275.48 326.91 L275.66 327.73 L275.84 328.62 L276.02 329.12 L276.20 330.09 L276.32 330.71 L276.44 331.87 L276.57 332.12 L276.69 333.02 L276.81 334.70 L276.93 334.60 L277.06 335.27 L277.18 336.23 L277.30 336.08 L278.50 336.30 L278.64 335.59 L278.77 334.73 L278.91 334.23 L279.05 333.42 L279.18 332.86 L279.32 331.37 L279.45 331.09 L279.59 329.95 L279.73 329.97 L279.86 328.78 L280.00 327.46 L280.13 327.33 L280.26 326.15 L280.39 326.27 L280.51 325.00 L280.64 323.51 L280.77 323.55 L280.90 323.43 L281.60 322.54 L281.87 322.83 L282.13 324.07 L282.40 324.74 L282.48 325.87 L282.56 326.38 L282.64 326.90 L282.72 327.17 L282.80 328.37 L282.88 329.13 L282.96 329.76 L283.04 330.68 L283.12 330.75 L283.20 332.24 L283.30 332.75 L283.40 333.65 L283.50 334.21 L283.60 334.87 L283.70 335.86 L283.80 336.83 L284.20 335.62 L284.60 335.14 L284.68 333.98 L284.76 333.77 L284.84 332.91 L284.92 331.66 L285.00 331.99 L285.08 330.43 L285.16 330.13 L285.24 328.85 L285.32 327.98 L285.40 328.27 L285.70 326.52 L286.00 325.33 L286.50 326.76 L287.00 326.85 L288.00 326.91 L288.25 327.01 L288.50 325.34 L288.75 324.90 L289.00 324.23 L289.70 323.60 L290.10 324.20 L290.50 325.63 L290.63 325.68 L290.76 326.58 L290.89 327.19 L291.01 327.32 L291.14 328.70 L291.27 329.31 L291.40 330.27 L291.67 331.00 L291.93 332.09 L292.20 331.36 L292.47 332.63 L292.73 333.39 L293.00 333.94 L293.75 334.87 L294.50 335.07 L295.25 335.56 L296.00 335.22 L296.85 335.35 L297.70 335.57 L298.55 335.26 L299.40 335.05 L300.13 334.68 L300.87 334.05 L301.60 333.16 L302.03 333.64 L302.45 332.02 L302.88 331.92 L303.30 331.25 L303.85 330.75 L304.40 329.46 L304.85 330.18 L305.30 331.68 L305.46 332.41 L305.62 332.12 L305.78 332.81 L305.94 334.47 L306.10 335.34 L306.73 335.82 L307.37 336.54 L308.00 336.40 L308.75 338.00 L309.50 337.37 L310.40 337.29 L311.30 336.61 L311.80 335.14 L312.30 335.60 L312.80 334.77 L313.13 334.52 L313.47 333.62 L313.80 333.28 L314.50 332.14 L315.20 333.35 L315.53 334.30 L315.87 334.79 L316.20 335.71 L317.10 336.50 L318.00 337.40 L318.75 336.41 L319.50 336.74 L320.00 335.23 L320.50 334.81 L320.85 334.44 L321.20 333.84 L321.33 332.41 L321.47 332.32 L321.60 331.36 L321.73 331.08 L321.87 330.15 L322.00 329.23 L322.23 328.16 L322.45 327.76 L322.67 326.62 L322.90 325.96 L323.30 326.14 L323.70 326.96 L323.90 327.71 L324.10 328.92 L324.30 329.74 L325.00 328.64 L325.70 328.56 L326.15 329.47 L326.60 330.38 L327.00 330.66 L327.40 331.49 L327.60 332.02 L327.80 333.33 L328.00 333.08 L328.20 334.60 L328.50 334.37 L328.80 336.87 L329.10 337.38 L329.80 335.88 L330.50 336.28 L331.20 335.61 L331.90 335.17 L332.60 335.18 L333.30 334.43 L334.00 334.63 L334.70 333.38 L335.35 332.49 L336.00 332.26 L336.90 332.17 L337.45 332.84 L338.00 333.21 L339.20 332.98 L339.45 332.48 L339.70 331.97 L339.95 330.92 L340.20 330.80 L340.30 329.61 L340.40 328.97 L340.50 328.09 L340.60 327.51 L340.70 326.12 L340.80 326.86 L340.83 325.05 L340.86 324.27 L340.89 323.12 L340.91 323.10 L340.94 321.85 L340.97 321.84 L341.00 321.49 L341.03 320.53 L341.06 319.38 L341.09 319.38 L341.11 318.06 L341.14 317.40 L341.17 316.73 L341.20 315.80 L341.23 315.45 L341.26 314.06 L341.29 313.12 L341.31 313.63 L341.34 312.12 L341.37 311.56 L341.40 311.13 L341.42 310.10 L341.43 309.11 L341.45 308.81 L341.47 307.80 L341.48 307.72 L341.50 306.61 L341.52 305.99 L341.53 305.71 L341.55 304.06 L341.57 303.38 L341.58 303.59 L341.60 303.12 L341.62 301.93 L341.63 300.90 L341.65 301.00 L341.67 300.01 L341.68 299.52 L341.70 297.64 L341.72 297.64 L341.73 296.57 L341.75 295.84 L341.77 295.83 L341.78 295.19 L341.80 294.00 L341.82 293.39 L341.83 293.36 L341.85 292.36 L341.87 291.34 L341.88 290.90 L341.90 290.04 L341.91 288.76 L341.93 288.35 L341.94 287.97 L341.96 287.39 L341.97 285.93 L341.99 285.38 L342.00 284.75 L342.01 283.65 L342.03 284.02 L342.04 283.04 L342.06 282.68 L342.07 280.52 L342.09 280.37 L342.10 280.74 L342.11 278.70 L342.13 277.81 L342.14 277.94 L342.16 277.79 L342.17 276.69 L342.19 275.31 L342.20 275.22 L342.21 274.45 L342.23 273.67 L342.24 273.01 L342.26 272.48 L342.27 271.90 L342.29 271.27 L342.30 270.43 L342.31 269.22 L342.33 267.80 L342.34 268.08 L342.36 266.52 L342.37 267.36 L342.39 265.23 L342.40 264.23 L342.43 263.51 L342.46 263.71 L342.48 262.95 L342.51 262.37 L342.54 261.50 L342.57 260.34 L342.59 260.27 L342.62 258.93 L342.65 257.87 L342.68 258.15 L342.71 257.27 L342.73 255.94 L342.76 255.50 L342.79 255.31 L342.82 254.55 L342.84 253.00 L342.87 253.17 L342.90 250.92 L342.97 251.32 L343.03 250.73 L343.10 249.81 L343.17 249.20 L343.23 247.77 L343.30 247.67 L343.37 247.22 L343.43 245.92 L343.50 245.65 L343.77 246.33 L344.03 246.26 L344.30 247.74 L344.42 248.93 L344.54 248.75 L344.66 250.11 L344.78 250.93 L344.90 250.97 L345.20 252.16 L345.50 253.40 L345.80 254.09 L345.90 254.09 L346.00 255.62 L346.10 256.04 L346.20 256.65 L346.30 257.92 L346.40 258.30 L346.41 258.86 L346.42 259.81 L346.44 260.40 L346.45 261.36 L346.46 261.49 L346.47 261.51 L346.49 263.60 L346.50 264.00 L346.51 264.59 L346.52 265.10 L346.54 265.75 L346.55 266.54 L346.56 266.81 L346.57 268.23 L346.59 268.66 L346.60 268.93 L346.61 270.15 L346.62 270.61 L346.64 271.44 L346.65 272.39 L346.66 273.99 L346.68 273.14 L346.69 274.46 L346.70 275.29 L346.70 275.89 L346.71 277.04 L346.71 276.96 L346.71 277.72 L346.71 278.56 L346.72 278.72 L346.72 280.46 L346.72 280.20 L346.73 281.65 L346.73 282.64 L346.73 282.51 L346.73 283.50 L346.74 284.20 L346.74 285.71 L346.74 285.82 L346.75 285.70 L346.75 287.59 L346.75 288.28 L346.75 287.74 L346.76 288.15 L346.76 291.08 L346.76 290.75 L346.77 290.54 L346.77 292.58 L346.77 293.44 L346.77 292.58 L346.78 294.81 L346.78 295.29 L346.78 295.70 L346.79 296.13 L346.79 297.30 L346.79 297.52 L346.79 298.64 L346.80 299.18 L346.80 299.81 L346.79 300.93 L346.79 301.82 L346.78 302.49 L346.78 303.01 L346.77 304.23 L346.76 303.71 L346.76 304.97 L346.75 305.72 L346.75 306.86 L346.74 306.12 L346.74 307.58 L346.73 308.34 L346.72 309.26 L346.72 310.82 L346.71 310.69 L346.71 311.25 L346.70 312.18 L346.72 313.14 L346.74 313.38 L346.75 314.88 L346.77 314.40 L346.79 316.16 L346.81 316.66 L346.83 317.51 L346.85 318.46 L346.86 318.44 L346.88 319.44 L346.90 320.11 L347.15 318.75 L347.40 317.68 L347.42 316.96 L347.45 316.91 L347.47 314.89 L347.50 314.58 L347.52 314.43 L347.54 314.22 L347.57 312.92 L347.59 312.77 L347.62 311.49 L347.64 310.58 L347.66 309.43 L347.69 309.44 L347.71 309.36 L347.74 307.96 L347.76 306.77 L347.78 306.72 L347.81 305.19 L347.83 304.56 L347.86 304.78 L347.88 303.77 L347.90 303.28 L347.93 302.26 L347.95 301.39 L347.98 300.79 L348.00 299.86 L348.05 299.73 L348.09 298.05 L348.14 297.09 L348.19 296.82 L348.24 296.85 L348.28 295.54 L348.33 294.10 L348.38 295.54 L348.42 293.26 L348.47 292.86 L348.52 292.48 L348.56 291.68 L348.61 290.75 L348.66 289.47 L348.71 289.63 L348.75 288.30 L348.80 287.93 L348.89 287.54 L348.98 286.29 L349.06 284.93 L349.15 284.65 L349.24 284.38 L349.32 283.65 L349.41 282.03 L349.50 281.82 L349.55 282.65 L349.60 283.70 L349.65 284.15 L349.70 284.78 L349.75 285.31 L349.80 286.37 L349.85 287.22 L349.90 287.56 L349.95 288.24 L350.00 289.81 L350.05 289.80 L350.10 290.22 L350.15 291.55 L350.20 291.48 L350.22 292.26 L350.24 293.81 L350.26 294.15 L350.29 295.19 L350.31 295.89 L350.33 295.97 L350.35 297.21 L350.37 297.56 L350.39 298.52 L350.41 299.25 L350.44 299.82 L350.46 300.03 L350.48 301.41 L350.50 302.01 L350.52 302.93 L350.54 302.99 L350.56 304.23 L350.59 304.77 L350.61 305.39 L350.63 306.17 L350.65 306.90 L350.67 307.15 L350.69 308.20 L350.71 308.95 L350.74 310.05 L350.76 310.51 L350.78 311.87 L350.80 312.25 L350.83 312.85 L350.86 313.53 L350.88 313.58 L350.91 315.04 L350.94 316.13 L350.97 315.91 L350.99 317.60 L351.02 318.03 L351.05 318.62 L351.08 319.05 L351.11 319.95 L351.13 320.34 L351.16 321.38 L351.19 322.13 L351.22 322.86 L351.24 323.05 L351.27 324.66 L351.30 324.73 L351.48 324.41 L351.65 323.74 L351.82 322.66 L352.00 323.01 L352.06 321.34 L352.11 320.74 L352.17 319.75 L352.23 319.28 L352.29 317.91 L352.34 317.98 L352.40 316.85 L352.46 316.07 L352.51 315.89 L352.57 315.23 L352.63 313.97 L352.69 313.01 L352.74 311.88 L352.80 311.59 L352.94 311.44 L353.08 310.74 L353.22 309.20 L353.36 308.98 L353.50 308.63 L353.58 308.64 L353.66 309.48 L353.73 310.09 L353.81 311.39 L353.89 311.20 L353.97 312.68 L354.04 313.68 L354.12 314.22 L354.20 315.39 L354.25 315.96 L354.29 316.20 L354.34 316.70 L354.39 317.39 L354.44 318.73 L354.48 319.18 L354.53 319.99 L354.58 320.27 L354.62 321.83 L354.67 322.42 L354.72 323.07 L354.76 323.01 L354.81 325.25 L354.86 325.23 L354.91 325.14 L354.95 326.69 L355.00 326.95 L355.14 327.39 L355.29 328.11 L355.43 329.35 L355.57 329.98 L355.71 330.66 L355.86 331.20 L356.00 331.58 L356.40 332.90 L356.80 333.49 L357.20 334.32 L357.57 335.35 L357.95 336.50 L358.32 336.24 L358.70 337.60 L358.98 336.10 L359.25 335.95 L359.52 335.07 L359.80 334.01 L360.10 333.45 L360.40 332.38 L360.70 331.91 L361.00 331.79 L361.50 330.98 L362.00 330.86 L362.50 328.79 L362.80 329.77 L363.10 330.76 L363.40 331.50 L363.70 332.03 L364.00 332.83 L364.73 333.19 L365.47 333.99 L366.20 333.66 L366.58 332.77 L366.97 332.59 L367.35 330.78 L367.73 330.88 L368.12 330.36 L368.50 330.13 L369.00 328.56 L369.50 328.91 L370.00 328.06 L370.50 328.40 L371.00 327.83 L371.50 326.82 L371.81 327.82 L372.13 327.78 L372.44 328.97 L372.76 329.62 L373.07 330.58 L373.39 330.60 L373.70 330.52 L374.27 332.30 L374.85 332.11 L375.43 332.90 L376.00 333.55 L376.40 334.98 L376.80 334.88 L377.20 335.97 L378.00 335.51 L378.80 334.88 L379.60 335.61 L380.40 335.61 L381.30 335.37 L382.20 335.16 L383.10 337.16 L383.63 337.61 L384.17 337.64 L384.70 338.39 L385.27 338.02 L385.83 337.31 L386.40 335.89 L386.50 335.21 L386.60 335.39 L386.70 334.89 L386.80 334.05 L386.90 333.23 L387.00 332.16 L387.10 331.84 L387.20 331.36 L387.30 330.22 L387.53 329.78 L387.77 329.03 L388.00 327.51 L388.80 327.63 L389.60 326.19 L389.73 326.88 L389.87 328.66 L390.00 328.08 L390.13 329.42 L390.27 330.62 L390.40 331.16 L390.53 331.59 L390.67 332.12 L390.80 333.46 L390.93 334.22 L391.07 334.72 L391.20 335.10 L391.33 334.17 L391.47 334.00 L391.60 333.23 L391.73 332.84 L391.87 331.62 L392.00 331.37 L392.13 329.71 L392.27 328.70 L392.40 328.98 L392.53 327.63 L392.67 326.66 L392.80 326.14 L393.00 325.03 L393.20 324.71 L393.40 323.61 L393.60 323.57 L394.05 322.71 L394.50 322.38 L395.30 323.00 L395.57 323.88 L395.83 323.70 L396.10 325.16 L396.23 325.69 L396.36 326.03 L396.49 327.09 L396.61 328.11 L396.74 328.79 L396.87 330.11 L397.00 329.87 L397.14 330.82 L397.28 332.31 L397.42 332.04 L397.56 332.70 L397.70 333.61 L397.97 334.31 L398.23 335.29 L398.50 336.11 L398.77 336.49 L399.03 337.09 L399.30 338.28 L400.15 337.45 L401.00 337.27 L401.70 337.21 L402.40 336.50 L403.10 335.60 L403.76 335.84 L404.42 336.44 L405.08 336.66 L405.74 337.90 L406.40 338.40 L407.20 338.35 L408.00 338.48 L408.80 338.28 L409.60 338.67 L410.33 338.35 L411.05 338.07 L411.77 337.58 L412.50 337.06 L413.12 337.24 L413.75 336.91 L414.38 335.92 L415.00 335.91 L415.64 336.41 L416.28 337.04 L416.92 336.57 L417.56 337.11 L418.20 337.54 L418.93 337.56 L419.67 337.60 L420.40 338.35 L421.13 337.50 L421.87 338.80 L422.60 338.01 L423.32 337.86 L424.03 337.25 L424.75 337.30 L425.47 336.79 L426.18 336.64 L426.90 336.24 L427.54 336.65 L428.18 336.96 L428.82 337.64 L429.46 337.61 L430.10 337.79 L430.80 338.68 L431.50 337.87 L432.20 338.26 L432.90 338.99 L433.60 337.91 L434.30 338.09 L434.98 337.53 L435.65 337.02 L436.32 337.26 L437.00 336.52 L437.50 335.95 L438.00 334.51 L438.50 334.70 L439.70 333.61 L440.25 333.92 L440.80 335.21 L441.17 335.58 L441.53 337.61 L441.90 337.02 L442.63 338.32 L443.37 338.28 L444.10 338.87 L444.74 338.28 L445.38 338.89 L446.02 337.55 L446.66 337.34 L447.30 337.30 L447.98 336.78 L448.65 336.93 L449.32 336.08 L450.00 335.45 L450.73 336.82 L451.47 337.65 L452.20 337.92 L452.73 337.99 L453.25 339.42 L453.77 339.90 L454.30 340.05 L455.06 340.20 L455.82 339.83 L456.58 339.71 L457.34 339.74 L458.10 339.66 L458.82 339.50 L459.53 339.66 L460.25 338.80 L460.97 339.64 L461.68 340.32 L462.40 339.98 L463.17 340.50 L463.94 340.31 L464.71 340.46 L465.49 340.51 L466.26 341.05 L467.03 340.76 L467.80 340.62 L468.57 339.98 L469.34 340.47 L470.11 339.74 L470.89 340.53 L471.66 339.60 L472.43 339.49 L473.20 339.54 L473.97 339.11 L474.74 339.63 L475.51 339.48 L476.29 338.98 L477.06 338.96 L477.83 339.83 L478.60 339.47 L479.39 339.35 L480.17 339.38 L480.96 340.00 L481.74 339.36 L482.53 339.54 L483.31 339.72 L484.10 339.47 L484.84 339.57 L485.58 340.70 L486.31 340.04 L487.05 339.64 L487.79 339.93 L488.52 339.86 L489.26 339.90 L490.00 340.08 L490.80 339.21 L491.60 338.78 L492.40 339.12 L493.20 338.81 L493.94 338.49 L494.69 338.98 L495.43 338.85 L496.17 339.21 L496.91 339.10 L497.66 339.69 L498.40 339.87 L499.10 339.51 L499.80 339.18 L500.50 339.45 L501.20 339.33 L501.90 339.16 L502.60 339.22 L503.12 338.15 L503.65 338.02 L504.18 337.32 L504.70 336.67 L505.07 335.61 L505.43 334.68 L505.80 334.24 L506.50 333.61 L506.77 334.04 L507.03 335.82 L507.30 336.28 L507.57 334.70 L507.85 334.76 L508.12 332.59 L508.40 332.85 L508.90 332.38 L509.40 331.71 L509.90 331.03 L510.30 332.07 L510.70 332.62 L511.10 332.60 L511.50 333.41 L511.82 334.83 L512.14 335.45 L512.46 335.41 L512.78 335.99 L513.10 337.48 L513.85 337.28 L514.60 337.62 L515.40 337.15 L516.20 336.90 L516.90 336.53 L517.60 338.19 L518.30 338.26 L519.00 338.41 L519.70 337.22 L520.40 336.96 L521.10 338.04 L521.80 338.77 L522.50 338.89 L523.20 338.25 L523.90 338.38 L524.60 337.75 L525.38 337.83 L526.15 338.01 L526.93 339.01 L527.70 339.19 L528.48 338.52 L529.25 339.00 L530.02 338.60 L530.80 338.00 L531.50 337.90 L532.20 337.82 L532.90 337.13 L533.42 337.30 L533.95 338.74 L534.48 338.08 L535.00 338.60 L535.80 338.79 L536.60 339.71 L537.40 340.08 L538.20 339.55 L538.98 340.35 L539.77 340.50 L540.55 340.41 L541.33 339.36 L542.12 340.42 L542.90 340.83 L543.67 339.57 L544.45 339.31 L545.23 340.50 L546.00 340.22" fill="none" stroke="#050505" stroke-width="3.20" stroke-linejoin="round" stroke-linecap="round"/>
<path d="M217.40 157.71 L217.49 157.16 L217.60 158.08 L217.73 159.00 L217.87 160.23 L218.03 160.31 L218.20 160.36 L218.37 161.97 L218.56 162.15 L218.74 164.00 L218.93 164.22 L219.12 165.92 L219.31 165.94 L219.49 166.37 L219.67 166.96 L219.84 168.16 L220.00 169.19 L220.19 170.33 L220.37 170.80 L220.56 171.25 L220.74 172.66 L220.92 172.72 L221.10 174.39 L221.28 174.68 L221.45 176.40 L221.62 176.91 L221.80 177.29 L221.97 177.26 L222.13 178.38 L222.30 178.65 L222.82 178.74 L223.31 178.39 L223.79 178.30 L224.30 176.33 L224.46 176.23 L224.62 176.11 L224.79 174.32 L224.95 175.06 L225.12 174.06 L225.28 172.66 L225.45 171.79 L225.62 170.91 L225.79 171.04 L225.97 168.78 L226.14 169.46 L226.32 168.35 L226.50 167.21 L226.65 166.65 L226.80 166.05 L226.96 165.42 L227.12 165.19 L227.28 163.76 L227.44 163.85 L227.60 163.08 L227.76 161.83 L227.92 161.47 L228.09 160.27 L228.25 159.81 L228.40 159.30 L228.56 159.22 L228.71 157.72 L228.86 157.05 L229.00 156.51 L229.20 155.56 L229.40 154.34 L229.60 154.76 L229.79 152.90 L229.98 152.13 L230.16 151.33 L230.34 151.21 L230.51 151.49 L230.68 150.89 L230.84 149.44 L231.00 148.65 L231.40 147.24 L231.75 145.86 L232.08 145.99 L232.40 145.46 L232.65 146.54 L232.89 145.96 L233.13 146.32 L233.36 146.94 L233.60 148.25 L233.68 149.77 L233.76 150.22 L233.84 150.21 L233.93 150.71 L234.01 152.18 L234.09 152.64 L234.17 153.65 L234.25 154.33 L234.33 154.81 L234.41 155.22 L234.49 156.83 L234.57 157.63 L234.65 158.48 L234.73 159.61 L234.80 160.39 L234.86 160.48 L234.93 161.64 L234.99 161.18 L235.04 163.11 L235.10 163.53 L235.16 164.70 L235.22 165.42 L235.27 165.33 L235.33 166.42 L235.38 167.68 L235.44 167.72 L235.50 168.73 L235.56 169.18 L235.61 170.43 L235.67 171.05 L235.74 171.31 L235.80 171.80 L235.86 172.16 L235.93 174.18 L235.99 174.35 L236.06 174.98 L236.12 175.79 L236.19 176.37 L236.26 177.79 L236.33 178.50 L236.40 178.03 L236.47 179.69 L236.54 180.47 L236.61 181.00 L236.68 181.87 L236.74 183.22 L236.81 183.30 L236.87 184.31 L236.94 184.85 L237.00 184.36 L237.10 186.66 L237.19 186.84 L237.29 187.42 L237.38 188.65 L237.47 189.96 L237.56 189.36 L237.64 190.07 L237.73 191.17 L237.82 190.91 L237.91 191.86 L238.00 193.02 L238.10 194.04 L238.19 194.62 L238.28 195.38 L238.38 196.10 L238.47 196.07 L238.56 196.74 L238.66 197.43 L238.77 198.16 L238.88 199.58 L239.00 200.37 L239.07 199.70 L239.15 201.39 L239.23 201.37 L239.31 202.01 L239.39 203.72 L239.47 204.43 L239.56 205.09 L239.64 205.61 L239.73 206.84 L239.82 206.32 L239.91 207.92 L240.01 208.03 L240.10 208.81 L240.20 209.12 L240.30 211.21 L240.40 212.05 L240.50 212.38 L240.60 212.46 L240.70 213.51 L240.80 213.69 L240.90 214.76 L241.01 216.24 L241.11 217.01 L241.21 217.33 L241.32 218.11 L241.43 218.44 L241.54 219.36 L241.66 219.85 L241.79 220.83 L241.92 221.05 L242.05 222.44 L242.19 222.59 L242.34 223.44 L242.50 223.95 L242.69 225.39 L242.88 225.85 L243.08 225.82 L243.29 226.46 L243.50 227.81 L243.72 228.29 L243.95 228.82 L244.18 229.68 L244.42 230.95 L244.67 230.86 L244.92 232.15 L245.18 231.96 L245.45 232.69 L245.72 233.54 L246.00 233.98 L246.33 234.48 L246.68 234.92 L247.03 235.91 L247.40 236.54 L247.77 237.36 L248.15 238.45 L248.54 238.85 L248.94 239.74 L249.34 239.92 L249.75 240.60 L250.16 241.23 L250.58 241.81 L251.00 242.44 L251.50 242.35 L252.00 243.31 L252.51 243.73 L253.02 244.66 L253.55 244.96 L254.08 244.80 L254.63 245.65 L255.19 246.17 L255.77 246.29 L256.38 247.18 L257.00 247.12 L257.60 246.79 L258.22 247.76 L258.86 248.24 L259.52 247.82 L260.19 248.70 L260.88 247.46 L261.57 249.72 L262.26 248.49 L262.95 249.10 L263.64 249.40 L264.33 249.17 L265.00 250.14 L265.67 249.88 L266.36 249.96 L267.05 249.82 L267.74 251.38 L268.43 251.86 L269.12 251.51 L269.81 251.99 L270.48 252.83 L271.14 252.57 L271.78 253.11 L272.40 253.26 L273.00 253.33 L273.87 253.48 L274.71 254.00 L275.53 253.80 L276.31 253.94 L277.06 253.71 L277.76 253.21 L278.41 253.70 L279.00 253.87 L279.69 254.18 L280.26 253.12 L280.75 251.86 L281.19 252.38 L281.59 252.03 L282.00 251.15 L282.57 250.45 L283.06 249.76 L283.52 249.11 L284.00 249.61 L284.37 248.98 L284.70 249.66 L285.06 250.14 L285.47 251.29 L286.00 251.72 L286.65 251.96 L287.40 252.38 L288.22 252.73 L289.09 251.71 L290.00 252.47 L290.68 252.30 L291.40 252.54 L292.14 252.89 L292.90 253.52 L293.67 252.95 L294.44 254.54 L295.20 254.08 L295.94 254.01 L296.68 253.84 L297.42 255.17 L298.17 255.19 L298.92 255.42 L299.70 255.22 L300.50 255.96 L301.23 255.90 L301.99 256.11 L302.76 255.29 L303.54 255.46 L304.33 254.79 L305.11 254.89 L305.87 254.59 L306.60 254.64 L307.41 254.51 L308.19 254.35 L308.96 254.17 L309.72 254.08 L310.48 253.66 L311.23 253.37 L312.00 253.32 L312.77 253.66 L313.54 253.56 L314.31 253.60 L315.09 254.05 L315.86 252.44 L316.63 253.08 L317.40 251.96 L318.07 252.06 L318.75 251.71 L319.43 251.82 L320.10 252.07 L320.77 251.88 L321.45 251.09 L322.12 251.08 L322.80 250.60 L323.48 249.65 L324.17 250.66 L324.87 249.48 L325.56 249.29 L326.25 249.27 L326.92 248.67 L327.57 248.58 L328.20 248.93 L328.90 247.92 L329.58 247.75 L330.24 246.99 L330.88 246.60 L331.49 247.22 L332.06 246.93 L332.60 246.26 L333.28 246.65 L333.89 244.99 L334.44 245.11 L334.94 244.04 L335.40 243.80 L335.90 243.38 L336.31 241.94 L336.66 242.42 L337.00 240.97 L337.20 240.42 L337.38 239.69 L337.54 239.23 L337.70 237.81 L337.88 237.01 L338.10 236.76 L338.25 235.91 L338.42 235.16 L338.59 234.76 L338.77 234.54 L338.96 232.68 L339.15 231.31 L339.34 231.45 L339.53 230.13 L339.72 230.06 L339.90 229.10 L340.16 228.66 L340.41 228.59 L340.67 226.94 L340.93 225.49 L341.19 225.02 L341.44 224.37 L341.70 223.59 L342.14 223.51 L342.58 222.69 L343.02 222.43 L343.50 221.76 L344.04 220.67 L344.63 219.77 L345.20 219.26 L345.70 219.29 L346.10 219.26 L346.45 219.41 L346.75 221.92 L347.00 222.61 L347.09 222.41 L347.16 222.93 L347.23 223.63 L347.29 224.67 L347.34 225.08 L347.39 225.04 L347.44 226.86 L347.49 227.75 L347.54 227.69 L347.60 228.40 L347.66 229.72 L347.71 230.11 L347.75 231.87 L347.80 232.66 L347.84 232.41 L347.90 234.16 L347.95 234.08 L348.02 235.06 L348.10 236.48 L348.20 236.19 L348.84 236.70 L349.70 235.32 L350.41 235.93 L351.21 234.62 L352.00 235.91 L352.44 235.18 L352.86 235.31 L353.28 236.15 L353.72 236.74 L354.20 238.26 L354.56 237.72 L354.94 239.16 L355.32 240.06 L355.72 240.56 L356.13 240.19 L356.56 241.96 L357.00 242.37 L357.47 243.09 L357.96 242.77 L358.48 243.86 L359.00 244.86 L359.52 244.94 L360.02 245.47 L360.50 245.63 L361.30 246.34 L362.06 246.87 L362.80 248.33 L363.50 247.56 L364.15 247.76 L364.75 247.87 L365.35 248.82 L366.00 249.09 L366.69 249.21 L367.41 249.16 L368.17 251.17 L369.00 250.74 L369.60 250.80 L370.22 251.52 L370.88 251.33 L371.56 251.90 L372.26 251.46 L373.00 252.36 L373.65 251.73 L374.31 253.49 L374.99 253.39 L375.70 253.57 L376.43 253.94 L377.20 253.57 L378.00 254.38 L378.66 254.51 L379.34 255.01 L380.06 254.41 L380.79 254.59 L381.53 254.86 L382.28 255.07 L383.03 255.11 L383.77 255.28 L384.50 255.65 L385.22 255.51 L385.95 255.67 L386.67 255.60 L387.39 255.18 L388.12 256.19 L388.84 255.92 L389.56 256.20 L390.28 255.88 L391.00 257.32 L391.71 257.23 L392.41 256.77 L393.10 257.32 L393.79 257.68 L394.48 258.35 L395.18 257.75 L395.90 258.28 L396.64 257.70 L397.40 258.18 L398.04 258.39 L398.69 258.54 L399.35 258.39 L400.02 259.35 L400.69 258.91 L401.38 259.16 L402.08 259.70 L402.79 260.59 L403.52 260.68 L404.25 260.32 L405.00 260.11 L405.65 260.13 L406.31 260.90 L406.98 261.39 L407.67 261.55 L408.36 261.28 L409.06 261.13 L409.77 261.81 L410.47 262.29 L411.18 261.87 L411.89 262.22 L412.60 262.00 L413.30 262.17 L414.00 263.00 L414.69 262.26 L415.38 263.20 L416.08 262.59 L416.77 262.86 L417.46 263.33 L418.15 263.38 L418.85 262.94 L419.54 263.25 L420.23 263.40 L420.92 263.53 L421.62 263.57 L422.31 264.06 L423.00 263.37 L423.75 264.27 L424.50 264.41 L425.25 263.57 L426.00 264.18 L426.75 263.96 L427.50 263.72 L428.25 264.50 L429.00 264.82 L429.75 264.47 L430.50 264.88 L431.25 264.84 L432.00 264.05 L432.75 264.89 L433.50 265.45 L434.25 265.70 L435.00 264.62 L435.75 264.55 L436.50 265.41 L437.25 265.18 L438.00 265.41 L438.75 265.19 L439.50 265.78 L440.25 265.82 L441.00 265.44 L441.75 265.69 L442.49 265.72 L443.23 266.10 L443.96 266.06 L444.70 266.17 L445.44 266.42 L446.18 266.27 L446.93 266.11 L447.68 266.80 L448.44 266.31 L449.21 266.06 L450.00 266.33 L450.68 266.81 L451.37 266.65 L452.06 266.76 L452.75 267.12 L453.45 267.29 L454.15 267.08 L454.86 267.07 L455.58 267.42 L456.30 267.82 L457.03 266.96 L457.76 267.35 L458.50 267.19 L459.25 267.42 L460.00 268.13 L460.66 268.72 L461.31 267.88 L461.95 267.55 L462.60 267.59 L463.24 268.42 L463.89 268.59 L464.55 268.61 L465.21 268.58 L465.89 268.07 L466.58 268.02 L467.29 268.39 L468.02 268.76 L468.77 268.23 L469.55 268.05 L470.36 269.00 L471.20 267.87 L471.80 269.16 L472.43 268.02 L473.06 268.79 L473.71 268.29 L474.38 268.99 L475.05 268.25 L475.74 268.45 L476.44 268.59 L477.15 268.21 L477.86 267.78 L478.59 268.02 L479.31 267.91 L480.05 268.32 L480.78 266.64 L481.52 268.66 L482.26 269.03 L483.01 268.19 L483.75 267.72 L484.48 267.77 L485.22 267.66 L485.95 267.57 L486.68 268.57 L487.40 266.99 L488.09 267.60 L488.78 267.94 L489.47 267.37 L490.17 268.66 L490.87 267.79 L491.57 267.96 L492.27 267.76 L492.97 267.82 L493.67 267.57 L494.38 268.41 L495.08 267.51 L495.79 267.57 L496.49 268.18 L497.20 267.40 L497.90 268.66 L498.61 267.76 L499.31 267.85 L500.01 268.65 L500.72 267.28 L501.42 268.71 L502.12 267.63 L502.81 267.67 L503.51 268.35 L504.20 268.73 L504.92 267.98 L505.64 268.11 L506.37 268.10 L507.09 268.07 L507.81 268.25 L508.53 268.22 L509.25 267.90 L509.97 267.85 L510.69 267.34 L511.41 268.47 L512.13 268.13 L512.85 268.51 L513.56 268.71 L514.27 268.56 L514.99 268.90 L515.70 268.75 L516.40 269.15 L517.11 268.70 L517.81 268.56 L518.51 269.18 L519.21 268.43 L519.91 269.47 L520.60 268.78 L521.33 268.79 L522.07 269.38 L522.81 269.86 L523.56 268.73 L524.32 269.05 L525.07 269.63 L525.83 270.43 L526.58 268.46 L527.34 269.26 L528.08 269.20 L528.83 268.99 L529.56 270.49 L530.28 269.76 L530.99 269.77 L531.68 269.58 L532.36 270.30 L533.02 270.11 L533.66 269.71 L534.28 269.64 L534.88 270.12 L535.45 269.95 L536.00 269.56 L537.03 269.87 L537.99 269.84 L538.88 270.75 L539.71 269.60 L540.47 270.59 L541.19 270.39 L541.84 270.38 L542.45 270.24 L543.01 270.99 L543.53 270.40 L544.00 271.14 L545.50 270.88 L546.00 270.74" fill="none" stroke="#b20043" stroke-width="3.60" stroke-linejoin="round" stroke-linecap="round"/>
<path d="M217.40 84.89 L217.45 85.65 L217.52 85.90 L217.60 86.51 L217.69 86.98 L217.78 88.07 L217.88 89.47 L217.99 90.04 L218.09 91.18 L218.20 91.71 L218.30 92.62 L218.40 93.33 L218.50 93.30 L218.60 95.14 L218.70 95.77 L218.79 96.54 L218.89 96.40 L218.98 97.14 L219.08 98.25 L219.18 99.16 L219.28 100.19 L219.38 100.72 L219.49 101.61 L219.60 101.73 L219.79 103.03 L219.98 103.91 L220.18 104.25 L220.39 105.97 L220.60 106.14 L220.80 106.99 L221.00 106.74 L221.66 107.93 L222.30 108.46 L222.72 108.29 L223.14 107.93 L223.60 106.60 L223.76 105.79 L223.93 104.98 L224.10 104.50 L224.28 104.51 L224.46 102.89 L224.64 102.54 L224.83 101.81 L225.01 100.19 L225.20 100.02 L225.36 99.87 L225.52 97.76 L225.68 97.74 L225.84 97.07 L226.00 96.01 L226.17 95.79 L226.34 94.80 L226.50 93.46 L226.67 93.70 L226.84 92.94 L227.00 92.40 L227.23 91.73 L227.45 90.43 L227.68 89.50 L227.91 88.10 L228.14 88.16 L228.36 86.94 L228.58 86.37 L228.80 85.47 L229.23 84.67 L229.64 84.16 L230.04 84.44 L230.40 82.75 L231.50 83.69 L231.67 84.91 L231.84 86.05 L232.00 86.44 L232.16 86.24 L232.33 86.92 L232.50 89.15 L232.60 89.29 L232.69 89.77 L232.79 91.33 L232.89 92.09 L232.99 92.42 L233.09 93.21 L233.19 94.06 L233.29 95.33 L233.39 95.70 L233.50 96.44 L233.60 97.23 L233.70 97.06 L233.79 98.98 L233.89 99.58 L233.99 100.15 L234.09 99.85 L234.19 101.17 L234.29 102.55 L234.40 102.20 L234.50 103.65 L234.60 104.92 L234.70 104.70 L234.80 106.68 L234.90 106.99 L235.00 107.45 L235.10 108.41 L235.21 109.31 L235.31 109.85 L235.41 111.04 L235.51 111.04 L235.61 111.90 L235.71 113.26 L235.81 113.57 L235.91 113.92 L236.00 115.40 L236.10 116.37 L236.19 116.29 L236.29 116.59 L236.38 117.80 L236.47 118.47 L236.56 119.09 L236.64 120.50 L236.73 120.20 L236.82 121.91 L236.91 121.63 L237.00 122.67 L237.06 123.91 L237.13 124.78 L237.18 125.35 L237.24 125.84 L237.30 126.47 L237.35 127.20 L237.41 128.12 L237.47 128.55 L237.53 129.50 L237.59 130.39 L237.66 130.92 L237.74 132.01 L237.82 132.70 L237.90 134.08 L238.00 134.14 L238.09 134.51 L238.19 135.25 L238.30 136.13 L238.41 137.27 L238.53 137.50 L238.65 138.57 L238.78 139.94 L238.90 138.86 L239.03 140.22 L239.16 141.54 L239.29 142.34 L239.42 142.98 L239.54 143.39 L239.66 144.50 L239.78 144.98 L239.89 145.23 L240.00 147.02 L240.21 147.19 L240.42 147.70 L240.62 148.67 L240.81 149.31 L241.00 150.02 L241.17 149.53 L241.34 151.11 L241.50 152.42 L241.66 152.30 L241.78 153.52 L241.88 154.69 L241.99 155.39 L242.12 156.42 L242.28 155.90 L242.50 157.35 L242.67 157.97 L242.86 159.03 L243.07 159.91 L243.30 159.02 L243.53 161.33 L243.78 160.99 L244.03 162.60 L244.28 162.40 L244.53 163.79 L244.77 164.88 L245.00 164.94 L245.28 165.82 L245.56 166.81 L245.83 167.25 L246.11 167.85 L246.39 169.21 L246.67 169.64 L246.94 169.66 L247.22 171.48 L247.50 170.32 L248.12 171.94 L248.75 171.88 L249.38 172.44 L250.00 173.30 L250.36 173.61 L250.71 174.37 L251.07 174.11 L251.43 174.79 L251.79 176.36 L252.14 176.36 L252.50 176.97 L252.89 177.48 L253.24 179.32 L253.59 179.78 L253.98 180.76 L254.44 180.43 L255.00 181.50 L255.44 181.48 L255.92 182.76 L256.44 183.59 L256.98 183.03 L257.56 184.54 L258.15 184.76 L258.76 184.72 L259.38 184.38 L260.00 186.19 L260.64 185.92 L261.30 186.04 L261.98 186.78 L262.67 187.08 L263.38 187.82 L264.09 187.03 L264.80 188.19 L265.50 188.58 L266.20 188.81 L266.90 188.36 L267.60 188.35 L268.31 189.31 L269.02 189.14 L269.73 189.34 L270.42 190.06 L271.10 189.52 L271.76 188.81 L272.40 189.74 L273.19 189.27 L273.97 190.52 L274.73 190.41 L275.45 190.09 L276.14 190.38 L276.80 190.72 L277.40 190.33 L278.16 190.64 L278.83 189.72 L279.44 189.77 L279.99 189.53 L280.50 189.18 L281.21 187.49 L281.80 187.40 L282.40 185.81 L283.06 186.24 L283.73 186.28 L284.50 187.95 L285.12 187.18 L285.77 187.88 L286.51 187.99 L287.40 188.29 L288.01 188.20 L288.69 188.71 L289.42 189.54 L290.17 188.99 L290.94 189.38 L291.69 189.75 L292.40 189.42 L293.18 189.17 L293.94 189.66 L294.69 190.54 L295.44 189.58 L296.20 190.20 L297.00 191.02 L297.70 191.07 L298.39 190.88 L299.09 191.36 L299.81 191.21 L300.57 190.73 L301.36 190.59 L302.20 190.93 L302.83 191.50 L303.48 190.75 L304.17 190.46 L304.87 190.33 L305.59 189.81 L306.31 190.18 L307.04 189.50 L307.77 189.92 L308.49 188.54 L309.20 189.44 L309.90 188.80 L310.60 188.01 L311.30 188.88 L312.00 188.19 L312.71 187.11 L313.41 187.41 L314.11 187.62 L314.81 187.04 L315.50 187.29 L316.20 187.01 L316.89 186.72 L317.58 186.32 L318.27 186.48 L318.96 185.94 L319.65 185.59 L320.34 184.26 L321.03 185.26 L321.72 185.17 L322.41 184.24 L323.10 183.90 L323.80 184.66 L324.52 182.86 L325.25 183.55 L325.97 184.12 L326.70 182.47 L327.42 182.89 L328.12 183.14 L328.81 182.03 L329.47 182.03 L330.10 181.88 L330.78 180.79 L331.44 180.81 L332.09 180.65 L332.72 180.54 L333.32 179.83 L333.90 179.38 L334.44 178.60 L334.94 178.40 L335.40 178.37 L335.77 177.50 L336.11 176.51 L336.41 175.89 L336.68 176.71 L336.92 175.37 L337.15 174.44 L337.37 172.33 L337.58 172.90 L337.79 172.03 L338.00 171.71 L338.15 170.56 L338.29 169.68 L338.43 169.23 L338.56 167.46 L338.68 167.96 L338.80 166.90 L338.92 165.71 L339.03 165.80 L339.14 165.25 L339.26 163.17 L339.37 162.78 L339.48 162.52 L339.59 161.85 L339.70 161.03 L339.90 159.88 L340.09 160.33 L340.28 159.10 L340.47 157.46 L340.65 156.76 L340.84 157.47 L341.02 156.66 L341.20 156.56 L341.89 155.08 L342.60 154.23 L343.13 154.98 L343.67 154.58 L344.20 156.19 L344.38 157.00 L344.56 157.87 L344.73 158.05 L344.90 159.05 L345.07 160.06 L345.24 160.78 L345.42 161.61 L345.60 162.09 L345.86 162.69 L346.13 163.98 L346.40 164.46 L346.67 164.82 L346.94 165.53 L347.20 166.30 L347.90 166.72 L348.60 167.27 L348.81 167.66 L348.99 168.30 L349.16 168.81 L349.39 169.06 L349.72 170.55 L350.20 171.64 L350.54 171.87 L350.92 172.14 L351.35 172.96 L351.82 172.95 L352.31 173.16 L352.82 174.59 L353.34 174.78 L353.87 176.08 L354.39 175.89 L354.91 175.78 L355.40 176.96 L355.92 178.59 L356.44 178.27 L356.95 178.33 L357.46 179.04 L357.98 180.03 L358.50 180.46 L359.04 180.76 L359.60 181.74 L360.19 181.85 L360.80 181.99 L361.34 182.63 L361.92 183.46 L362.53 183.57 L363.15 183.99 L363.78 183.49 L364.43 184.28 L365.06 185.03 L365.70 184.96 L366.31 185.89 L366.91 186.04 L367.47 186.49 L368.00 186.31 L368.84 187.92 L369.62 187.77 L370.35 187.51 L371.04 187.96 L371.71 189.31 L372.36 188.36 L373.00 189.17 L373.71 189.56 L374.37 189.48 L375.00 189.31 L375.63 190.18 L376.29 190.52 L377.00 191.07 L377.67 191.10 L378.38 190.92 L379.13 191.38 L379.87 191.35 L380.62 191.30 L381.33 191.33 L382.00 191.30 L382.86 191.80 L383.67 191.16 L384.45 191.43 L385.22 191.81 L386.00 191.39 L386.66 192.04 L387.30 191.64 L387.94 192.49 L388.59 193.32 L389.28 193.64 L390.00 193.68 L390.63 193.85 L391.24 193.58 L391.86 195.18 L392.52 194.87 L393.25 195.37 L394.07 194.82 L395.00 195.42 L395.56 194.92 L396.16 196.21 L396.80 196.48 L397.47 195.50 L398.17 196.50 L398.89 197.01 L399.62 196.23 L400.36 196.43 L401.10 196.98 L401.84 197.39 L402.58 197.29 L403.30 198.11 L404.00 198.40 L404.69 198.77 L405.38 199.00 L406.08 199.54 L406.77 199.60 L407.46 198.76 L408.15 199.30 L408.85 199.26 L409.54 199.44 L410.23 200.05 L410.92 200.27 L411.62 200.66 L412.31 199.96 L413.00 200.28 L413.69 200.96 L414.38 201.04 L415.08 201.15 L415.77 201.41 L416.46 201.27 L417.15 202.03 L417.85 202.03 L418.54 201.98 L419.23 201.87 L419.92 202.22 L420.62 201.29 L421.31 202.15 L422.00 202.72 L422.69 202.20 L423.38 203.05 L424.08 203.17 L424.77 202.66 L425.46 203.26 L426.15 203.37 L426.85 203.82 L427.54 204.01 L428.23 203.85 L428.92 203.63 L429.62 204.03 L430.31 204.17 L431.00 204.61 L431.74 204.52 L432.47 204.18 L433.19 203.99 L433.90 204.48 L434.62 204.39 L435.34 204.30 L436.07 204.78 L436.81 204.68 L437.57 205.00 L438.35 205.25 L439.16 204.94 L440.00 206.18 L440.65 205.14 L441.30 205.82 L441.96 205.49 L442.63 206.00 L443.31 204.62 L444.00 205.40 L444.70 205.91 L445.41 206.16 L446.13 206.98 L446.86 206.23 L447.61 206.73 L448.38 206.60 L449.16 206.77 L449.96 206.66 L450.77 206.46 L451.60 206.81 L452.25 206.20 L452.91 207.20 L453.59 206.33 L454.28 206.91 L454.99 207.74 L455.70 206.80 L456.43 206.95 L457.16 207.47 L457.90 207.04 L458.64 206.73 L459.39 207.22 L460.15 207.39 L460.91 207.48 L461.66 206.89 L462.42 207.98 L463.18 207.98 L463.93 207.31 L464.68 207.45 L465.43 207.18 L466.17 207.97 L466.90 207.10 L467.63 207.70 L468.36 207.23 L469.09 207.16 L469.81 207.76 L470.54 208.03 L471.27 207.47 L472.00 207.20 L472.73 207.83 L473.46 207.47 L474.19 207.62 L474.91 208.13 L475.64 207.96 L476.37 207.26 L477.10 208.43 L477.83 207.47 L478.56 207.79 L479.29 207.18 L480.01 207.42 L480.74 206.69 L481.47 208.16 L482.20 207.97 L482.93 206.87 L483.66 206.73 L484.39 206.65 L485.11 207.79 L485.84 207.06 L486.57 207.19 L487.30 207.04 L488.03 207.07 L488.76 206.62 L489.49 207.04 L490.21 206.38 L490.94 206.91 L491.67 207.03 L492.40 207.06 L493.13 206.74 L493.86 206.43 L494.59 206.86 L495.31 206.58 L496.04 207.44 L496.77 207.11 L497.50 206.75 L498.23 206.63 L498.96 206.57 L499.69 206.52 L500.41 206.82 L501.14 207.16 L501.87 207.32 L502.60 207.42 L503.33 208.14 L504.06 207.05 L504.79 207.44 L505.51 208.69 L506.24 206.83 L506.97 207.48 L507.70 207.86 L508.43 207.94 L509.16 208.13 L509.89 207.94 L510.61 208.27 L511.34 208.21 L512.07 208.57 L512.80 207.51 L513.53 207.98 L514.25 208.39 L514.98 208.00 L515.71 208.03 L516.43 208.76 L517.15 208.26 L517.88 208.82 L518.60 208.89 L519.33 208.73 L520.05 208.84 L520.78 208.60 L521.50 208.08 L522.23 208.68 L522.96 208.90 L523.68 208.51 L524.42 208.71 L525.15 209.09 L525.88 208.44 L526.62 209.10 L527.36 209.65 L528.10 208.67 L528.82 209.00 L529.58 208.91 L530.35 209.66 L531.14 209.19 L531.95 209.48 L532.77 208.85 L533.59 209.18 L534.42 209.23 L535.25 208.54 L536.07 209.93 L536.88 209.75 L537.68 208.69 L538.46 209.78 L539.22 209.46 L539.95 209.74 L540.65 209.75 L541.32 209.01 L541.95 209.59 L542.53 210.34 L543.07 209.50 L543.56 209.34 L544.00 209.23 L545.99 209.44 L546.00 210.14" fill="none" stroke="#3b7bd8" stroke-width="3.60" stroke-linejoin="round" stroke-linecap="round"/>
<path d="M217.00 61.96 L217.27 63.25 L217.62 63.16 L218.04 63.78 L218.50 64.26 L219.00 64.87 L219.52 65.74 L220.03 66.18 L220.53 66.58 L221.00 67.14 L221.44 67.61 L221.87 68.80 L222.30 69.50 L222.72 70.51 L223.15 70.57 L223.59 71.01 L224.04 71.70 L224.51 71.93 L225.00 71.64 L225.51 73.40 L226.04 73.24 L226.59 74.02 L227.15 74.28 L227.72 76.11 L228.30 75.81 L228.87 75.95 L229.44 75.72 L230.00 77.03 L230.62 76.74 L231.23 78.10 L231.83 77.41 L232.44 78.48 L233.05 79.36 L233.68 79.03 L234.33 79.87 L235.00 80.32 L235.62 81.03 L236.27 80.77 L236.93 81.65 L237.60 82.60 L238.28 81.40 L238.96 82.01 L239.65 82.92 L240.33 82.75 L241.00 82.76 L241.66 84.27 L242.29 84.36 L242.93 84.69 L243.56 84.95 L244.20 85.06 L244.85 84.64 L245.53 84.21 L246.25 85.72 L247.00 85.29 L247.65 85.99 L248.33 86.35 L249.04 85.84 L249.76 86.45 L250.50 87.57 L251.25 87.35 L252.01 86.51 L252.76 87.33 L253.52 87.60 L254.27 88.04 L255.00 88.28 L255.73 88.09 L256.47 88.18 L257.21 88.82 L257.95 87.96 L258.69 89.23 L259.43 89.01 L260.16 88.78 L260.89 88.87 L261.61 89.34 L262.31 88.70 L263.00 88.43 L263.74 89.72 L264.46 90.29 L265.17 89.67 L265.87 89.84 L266.56 89.88 L267.25 89.53 L267.93 90.18 L268.62 90.41 L269.30 90.11 L270.00 90.53 L270.70 89.72 L271.40 90.30 L272.10 89.88 L272.80 90.00 L273.50 90.33 L274.20 90.28 L274.90 90.57 L275.60 90.47 L276.30 89.64 L277.00 90.69 L277.70 89.41 L278.39 90.01 L279.08 90.14 L279.77 89.93 L280.46 90.12 L281.16 89.86 L281.86 89.35 L282.56 90.05 L283.28 89.58 L284.00 89.11 L284.67 89.43 L285.33 89.27 L286.01 89.30 L286.69 88.77 L287.37 88.95 L288.06 88.65 L288.75 89.27 L289.45 88.27 L290.16 88.83 L290.88 88.10 L291.60 88.49 L292.27 88.88 L292.95 87.62 L293.64 87.75 L294.33 87.20 L295.03 87.20 L295.73 87.17 L296.44 87.35 L297.15 87.60 L297.86 87.46 L298.57 86.73 L299.29 86.84 L300.00 85.97 L300.66 86.67 L301.31 86.11 L301.97 85.54 L302.63 85.47 L303.29 85.79 L303.96 85.34 L304.62 85.32 L305.29 84.60 L305.96 84.58 L306.64 84.14 L307.32 83.31 L308.01 83.62 L308.70 83.34 L309.35 82.84 L310.01 83.19 L310.67 83.49 L311.33 82.89 L312.01 82.01 L312.68 81.19 L313.36 81.31 L314.03 80.81 L314.71 80.84 L315.39 80.97 L316.07 80.12 L316.75 79.22 L317.43 80.09 L318.10 79.22 L318.77 79.46 L319.44 78.18 L320.12 79.28 L320.79 77.35 L321.46 77.58 L322.13 77.53 L322.81 75.73 L323.48 76.15 L324.15 75.47 L324.82 76.55 L325.49 75.79 L326.16 74.77 L326.83 74.14 L327.50 73.85 L328.17 74.40 L328.83 73.72 L329.50 73.96 L330.16 73.33 L330.82 72.59 L331.49 73.85 L332.15 73.06 L332.81 72.33 L333.48 72.27 L334.14 72.78 L334.80 72.38 L335.47 71.31 L336.13 72.29 L336.80 71.23 L337.53 71.58 L338.26 70.66 L339.01 70.74 L339.76 71.23 L340.52 70.25 L341.27 70.68 L342.02 70.72 L342.75 70.16 L343.48 70.98 L344.19 70.56 L344.89 70.15 L345.56 70.59 L346.20 70.69 L347.00 70.57 L347.75 69.95 L348.47 70.31 L349.17 70.12 L349.84 69.48 L350.51 69.82 L351.17 70.88 L351.83 69.74 L352.51 70.38 L353.20 71.02 L353.90 70.29 L354.58 70.63 L355.25 70.52 L355.93 71.29 L356.61 70.80 L357.30 71.79 L358.01 71.54 L358.74 72.36 L359.50 71.82 L360.30 72.43 L360.90 73.57 L361.51 73.71 L362.15 72.47 L362.79 74.74 L363.45 74.08 L364.13 75.16 L364.81 75.57 L365.49 75.42 L366.18 75.68 L366.87 75.37 L367.56 76.73 L368.25 77.67 L368.93 76.66 L369.60 77.98 L370.27 78.11 L370.94 78.48 L371.61 77.89 L372.28 78.56 L372.95 78.98 L373.62 79.86 L374.29 78.98 L374.97 79.41 L375.64 79.56 L376.31 80.50 L376.98 79.72 L377.66 80.57 L378.33 80.36 L379.00 81.05 L379.67 81.80 L380.34 81.54 L381.01 82.36 L381.69 82.17 L382.36 82.65 L383.03 82.91 L383.70 82.91 L384.37 83.76 L385.04 84.16 L385.71 83.85 L386.39 84.77 L387.06 84.80 L387.73 84.85 L388.40 85.36 L389.07 85.90 L389.74 86.11 L390.42 86.66 L391.09 86.37 L391.76 86.58 L392.43 86.07 L393.11 86.69 L393.78 87.38 L394.45 86.87 L395.12 87.16 L395.79 88.54 L396.46 87.93 L397.13 87.71 L397.80 87.49 L398.52 88.25 L399.24 89.83 L399.95 89.08 L400.67 89.58 L401.38 89.83 L402.09 89.57 L402.81 90.15 L403.52 90.25 L404.23 90.31 L404.95 91.10 L405.66 90.53 L406.38 90.77 L407.10 91.02 L407.82 92.00 L408.53 91.47 L409.25 92.62 L409.96 91.46 L410.67 91.78 L411.39 91.26 L412.10 92.15 L412.82 92.74 L413.55 93.17 L414.27 92.63 L415.01 93.00 L415.75 94.00 L416.50 93.38 L417.15 93.80 L417.81 94.20 L418.46 93.70 L419.12 94.82 L419.79 94.40 L420.45 95.00 L421.12 94.74 L421.79 95.17 L422.47 95.75 L423.16 95.52 L423.85 94.84 L424.55 95.67 L425.26 95.80 L425.97 96.05 L426.70 96.37 L427.39 95.75 L428.09 97.32 L428.80 96.35 L429.52 97.39 L430.25 96.82 L430.98 96.96 L431.71 97.18 L432.46 97.21 L433.20 97.71 L433.95 98.12 L434.69 98.48 L435.44 98.62 L436.18 97.43 L436.93 98.34 L437.67 98.38 L438.40 98.26 L439.13 98.53 L439.86 98.52 L440.59 98.14 L441.32 98.38 L442.06 99.24 L442.79 98.92 L443.52 99.63 L444.25 98.96 L444.98 99.01 L445.71 99.40 L446.44 99.49 L447.18 99.95 L447.91 99.41 L448.64 100.06 L449.37 99.96 L450.10 99.52 L450.83 99.90 L451.56 99.97 L452.29 100.55 L453.02 100.71 L453.75 100.54 L454.48 100.10 L455.21 100.69 L455.94 100.51 L456.67 100.25 L457.41 100.87 L458.14 100.29 L458.87 100.54 L459.60 100.29 L460.33 100.20 L461.07 100.99 L461.80 100.22 L462.53 100.67 L463.27 100.85 L464.01 101.26 L464.75 100.83 L465.48 101.47 L466.22 100.88 L466.96 100.95 L467.70 100.98 L468.44 101.17 L469.18 101.12 L469.92 100.88 L470.65 101.21 L471.39 101.21 L472.13 102.06 L472.87 101.21 L473.60 101.83 L474.33 101.34 L475.07 102.12 L475.80 101.73 L476.53 101.58 L477.26 102.33 L477.99 102.50 L478.73 102.54 L479.46 102.32 L480.19 101.96 L480.92 101.67 L481.65 101.78 L482.38 101.77 L483.11 102.24 L483.84 101.86 L484.57 102.16 L485.30 102.18 L486.03 102.07 L486.76 101.86 L487.49 101.72 L488.23 103.26 L488.96 102.16 L489.69 101.56 L490.42 101.73 L491.15 102.01 L491.88 103.08 L492.61 102.39 L493.34 101.97 L494.08 103.11 L494.81 101.62 L495.54 102.91 L496.27 103.65 L497.00 102.50 L497.73 102.95 L498.46 102.85 L499.19 101.38 L499.93 102.78 L500.66 102.42 L501.39 101.54 L502.12 103.11 L502.85 102.53 L503.58 102.96 L504.31 103.05 L505.04 102.64 L505.77 101.94 L506.51 102.78 L507.24 102.69 L507.97 102.56 L508.70 102.75 L509.43 103.13 L510.16 103.83 L510.89 103.25 L511.62 103.36 L512.36 103.76 L513.09 103.54 L513.82 103.29 L514.55 103.15 L515.28 102.97 L516.01 103.92 L516.74 103.53 L517.47 104.12 L518.21 103.32 L518.94 103.45 L519.67 103.92 L520.40 104.42 L521.13 103.77 L521.86 103.64 L522.59 104.16 L523.32 103.42 L524.05 104.53 L524.78 103.55 L525.51 103.48 L526.24 104.22 L526.97 104.01 L527.70 104.86 L528.43 104.69 L529.16 104.60 L529.89 103.58 L530.63 104.47 L531.36 104.18 L532.10 103.76 L532.81 105.41 L533.55 103.87 L534.31 104.31 L535.10 104.39 L535.89 104.54 L536.68 104.94 L537.48 105.09 L538.27 104.42 L539.04 105.18 L539.80 105.32 L540.52 105.22 L541.22 105.80 L541.88 104.95 L542.49 105.05 L543.05 105.04 L543.56 104.77 L544.00 105.25 L545.74 105.85 L546.00 105.63" fill="none" stroke="#27a163" stroke-width="3.60" stroke-linejoin="round" stroke-linecap="round"/>
</g>
<line x1="172.6" y1="14.6" x2="172.6" y2="44.9" stroke="#000" stroke-width="2.4"/><line x1="168.0" y1="15.6" x2="177.2" y2="15.6" stroke="#000" stroke-width="2.4"/><line x1="168.0" y1="43.9" x2="177.2" y2="43.9" stroke="#000" stroke-width="2.4"/>
<line x1="532.1" y1="19.0" x2="532.1" y2="36.5" stroke="#000" stroke-width="2.4"/><line x1="527.5" y1="20.0" x2="536.7" y2="20.0" stroke="#000" stroke-width="2.4"/><line x1="527.5" y1="35.5" x2="536.7" y2="35.5" stroke="#000" stroke-width="2.4"/>
</svg>
<svg width="555" height="401" style="position:absolute;left:0;top:0"><path d="M132.60 21.20 L134.70 21.20 L134.70 36.00 L132.60 36.00 L132.60 24.20 L128.80 26.70 L128.80 24.80 Z" fill="#000"/><path d="M490.40 19.70 L492.50 19.70 L492.50 34.50 L490.40 34.50 L490.40 22.70 L486.60 25.20 L486.60 23.30 Z" fill="#000"/></svg>
<div class="t" style="left:144.14px;top:106.20px;font-weight:bold;font-size:28px;color:#27a163;">d</div>
<div class="t" style="left:143.35px;top:153.35px;font-weight:bold;font-size:28px;transform-origin:7.90px 15.50px;transform:scale(0.850,1.000);color:#3b7bd8;">c</div>
<div class="t" style="left:144.08px;top:263.75px;font-weight:bold;font-size:28px;color:#b20043;">b</div>
<div class="t" style="left:143.69px;top:311.20px;font-weight:bold;font-size:28px;transform-origin:8.36px 15.50px;transform:scale(0.870,1.000);color:#000;">a</div>
<div class="t" style="left:512.59px;top:71.00px;font-weight:bold;font-size:28px;color:#27a163;">d</div>
<div class="t" style="left:511.75px;top:179.10px;font-weight:bold;font-size:28px;transform-origin:7.90px 15.50px;transform:scale(0.850,1.000);color:#3b7bd8;">c</div>
<div class="t" style="left:512.48px;top:237.95px;font-weight:bold;font-size:28px;color:#b20043;">b</div>
<div class="t" style="left:512.09px;top:306.70px;font-weight:bold;font-size:28px;transform-origin:8.36px 15.50px;transform:scale(0.840,0.970);color:#000;">a</div>
<div class="t" style="left:134.96px;top:17.61px;font-size:21px;letter-spacing:-1.2px;-webkit-text-stroke:0.55px #000;transform-origin:16.39px 11.04px;transform:scale(0.915,1.048);color:#000;">000</div>
<div class="t" style="left:493.26px;top:16.11px;font-size:21px;letter-spacing:-1.2px;-webkit-text-stroke:0.55px #000;transform-origin:16.39px 11.04px;transform:scale(0.972,1.048);color:#000;">000</div>
<div class="t" style="left:51.93px;top:354.30px;font-weight:bold;font-size:20px;color:#000;">2</div>
<div class="t" style="left:94.19px;top:354.30px;font-weight:bold;font-size:20px;color:#000;">3</div>
<div class="t" style="left:136.18px;top:354.30px;font-weight:bold;font-size:20px;color:#000;">4</div>
<div class="t" style="left:178.30px;top:354.30px;font-weight:bold;font-size:20px;color:#000;">5</div>
<div class="t" style="left:235.38px;top:354.30px;font-weight:bold;font-size:20px;color:#000;">10</div>
<div class="t" style="left:310.06px;top:354.30px;font-weight:bold;font-size:20px;color:#000;">20</div>
<div class="t" style="left:384.54px;top:354.30px;font-weight:bold;font-size:20px;color:#000;">30</div>
<div class="t" style="left:459.06px;top:354.30px;font-weight:bold;font-size:20px;color:#000;">40</div>
<div class="t" style="left:533.14px;top:354.30px;font-weight:bold;font-size:20px;color:#000;">50</div>
<div class="t" style="left:88.08px;top:379.70px;font-weight:bold;font-size:20px;color:#000;">2</div>
<div class="t" style="left:98.18px;top:380.59px;font-size:20px;-webkit-text-stroke:0.35px #000;transform-origin:5.62px 9.51px;transform:scale(0.970,0.930);color:#000;">&#952;</div>
<div class="t" style="left:108.96px;top:379.90px;font-size:20.5px;font-weight:bold;color:#000;">(</div>
<div class="t" style="left:115.80px;top:379.05px;font-size:20.5px;font-weight:bold;color:#000;">&#176;</div>
<div class="t" style="left:124.38px;top:379.90px;font-size:20.5px;font-weight:bold;color:#000;">)</div>
<div class="t" style="left:357.08px;top:379.70px;font-weight:bold;font-size:20px;color:#000;">2</div>
<div class="t" style="left:367.18px;top:380.59px;font-size:20px;-webkit-text-stroke:0.35px #000;transform-origin:5.62px 9.51px;transform:scale(0.970,0.930);color:#000;">&#952;</div>
<div class="t" style="left:377.96px;top:379.90px;font-size:20.5px;font-weight:bold;color:#000;">(</div>
<div class="t" style="left:384.80px;top:379.05px;font-size:20.5px;font-weight:bold;color:#000;">&#176;</div>
<div class="t" style="left:393.38px;top:379.90px;font-size:20.5px;font-weight:bold;color:#000;">)</div>
<div class="t" style="left:0;top:0;font-weight:bold;font-size:20.5px;transform-origin:0 0;transform:translate(-1.25px,230.40px) rotate(-90deg);">Intensity</div>
</body></html>
